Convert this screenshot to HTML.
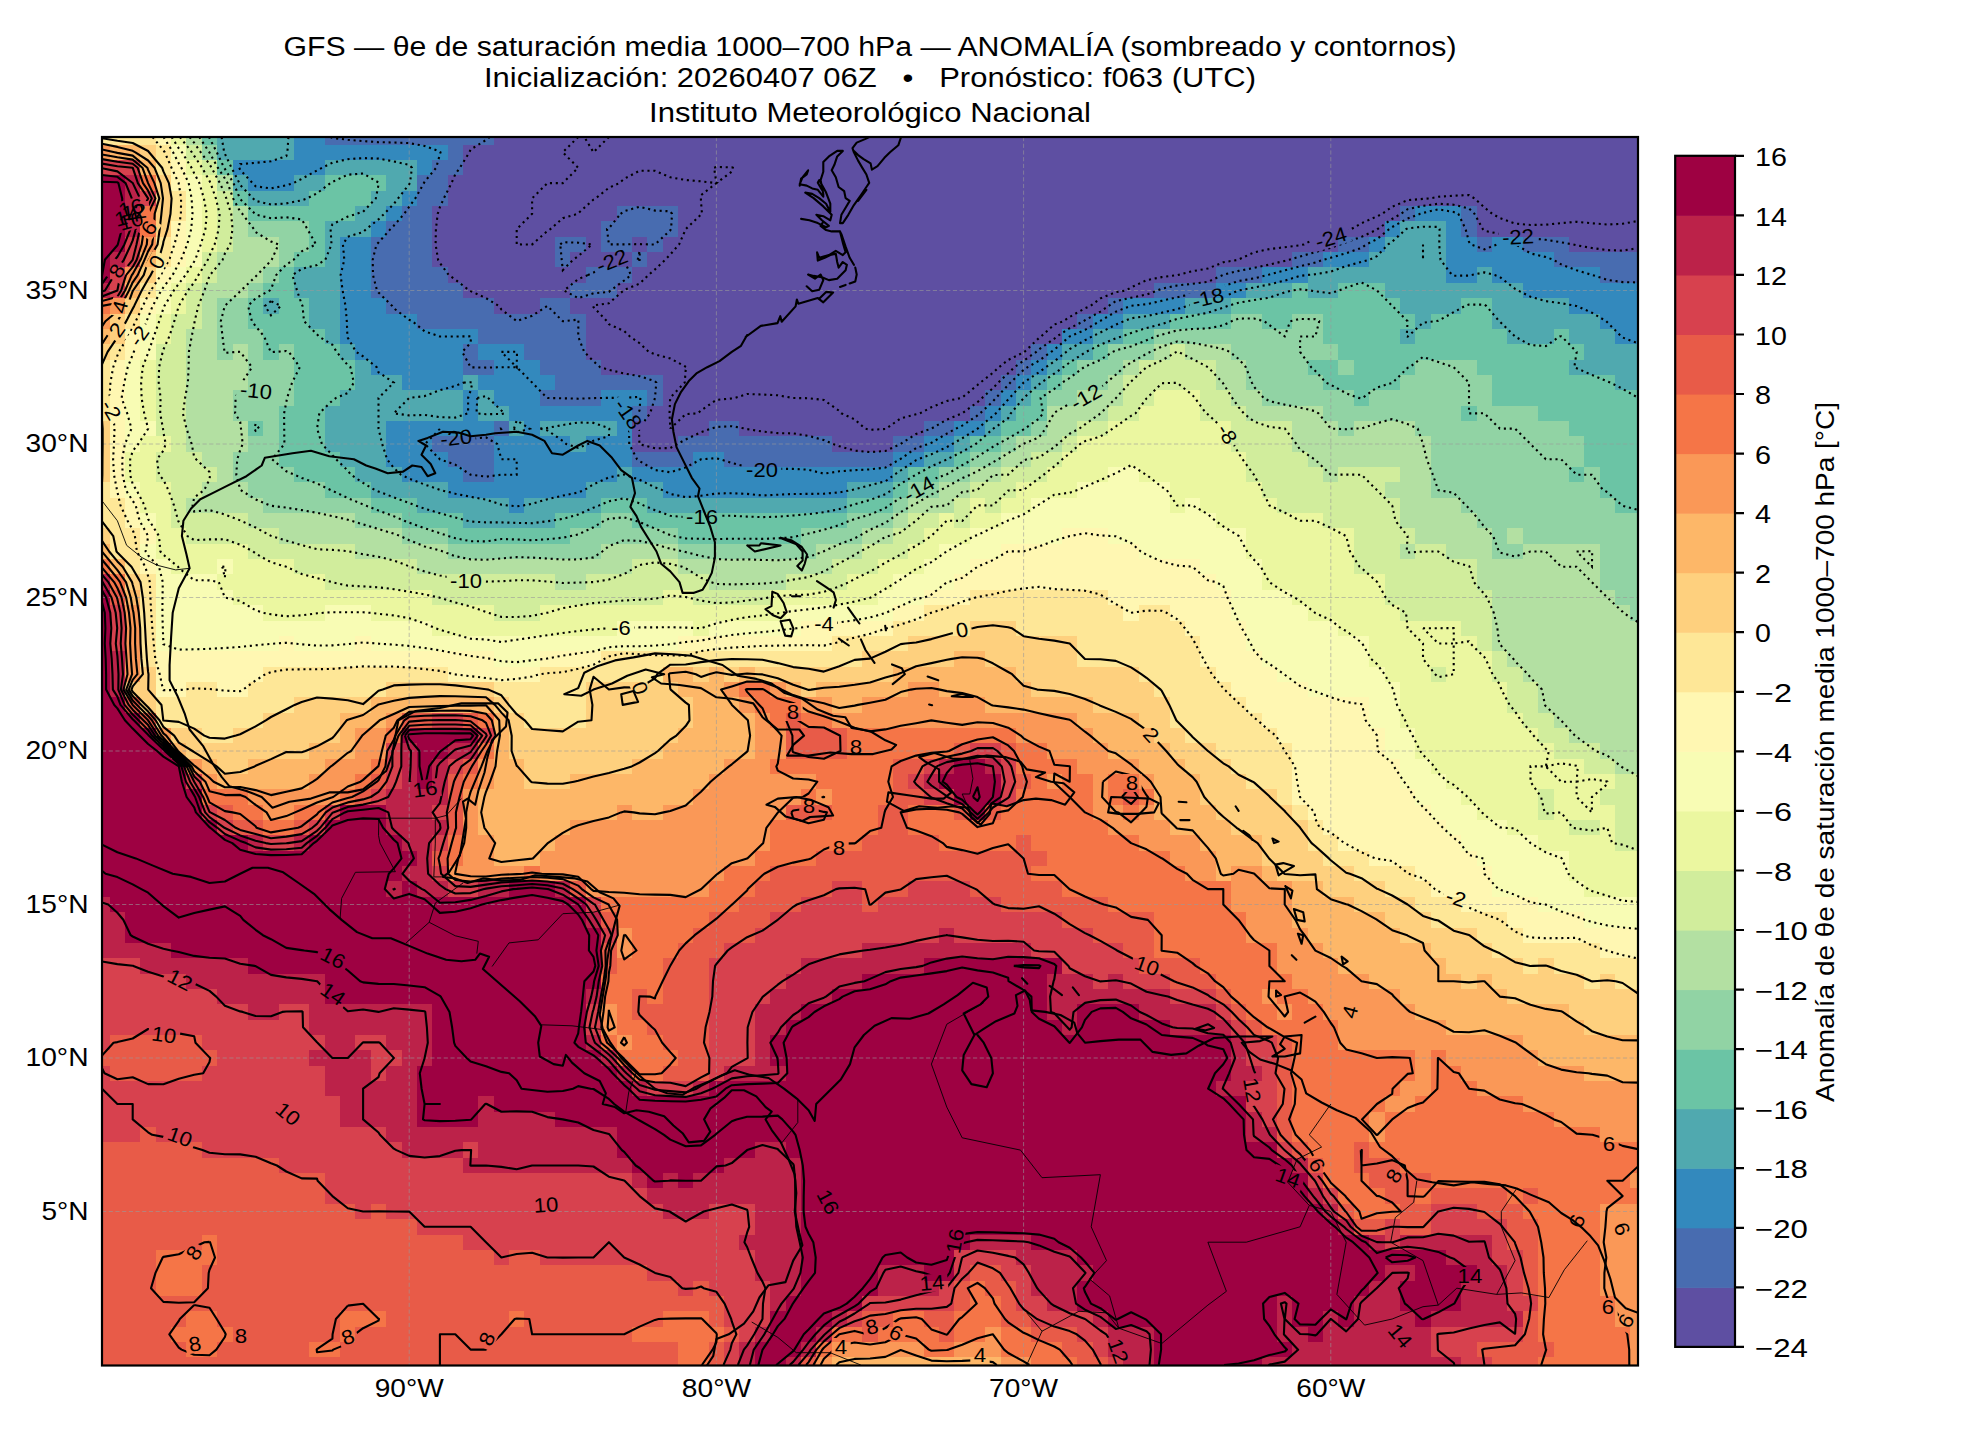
<!DOCTYPE html>
<html><head><meta charset="utf-8"><title>GFS</title>
<style>
html,body{margin:0;padding:0;background:#fff}
body{width:1980px;height:1440px;overflow:hidden;position:relative;font-family:"Liberation Sans",sans-serif}
svg{position:absolute;left:0;top:0}
text{font-family:"Liberation Sans",sans-serif;fill:#000}
.cn{fill:none;stroke:#000;stroke-width:2.1;stroke-dasharray:2.1 3.75}
.cp{fill:none;stroke:#000;stroke-width:2.1;stroke-linejoin:round}
.gl{fill:none;stroke:#9a9a9a;stroke-opacity:.6;stroke-width:1;stroke-dasharray:4.2 2.5}
.co{fill:none;stroke:#000;stroke-width:2.1;stroke-linejoin:round;stroke-linecap:round}
.bo{fill:none;stroke:#000;stroke-width:.9;stroke-linejoin:round}
.cl{font-size:20.5px;text-anchor:middle}
.tk{font-size:25px}
.tt{font-size:28.2px;text-anchor:middle}
</style></head><body>
<svg width="1980" height="1440" viewBox="0 0 1980 1440">
<rect width="1980" height="1440" fill="#fff"/>
<g shape-rendering="crispEdges"><path fill="#5e4fa2" d="M494 137h1144v69h-1144zM463 145h31v153h-31zM448 175h15v108h-15zM432 206h16v61h-16zM494 206h123v15h-123zM678 206h722v15h-722zM1477 206h161v31h-161zM494 221h107v16h-107zM678 221h707v16h-707zM494 237h61v61h-61zM586 237h15v30h-15zM632 237h15v15h-15zM663 237h675v15h-675zM1569 237h69v15h-69zM570 252h16v31h-16zM601 252h31v15h-31zM647 252h645v15h-645zM555 267h15v31h-15zM632 267h584v16h-584zM617 283h537v15h-537zM494 298h46v16h-46zM570 298h538v16h-538zM586 314h491v15h-491zM586 329h476v15h-476zM586 344h445v16h-445zM601 360h415v15h-415zM663 375h338v15h-338zM663 390h322v16h-322zM647 406h323v15h-323zM632 421h77v15h-77zM739 421h185v15h-185zM632 436h46v16h-46zM832 436h61v16h-61z"/><path fill="#486cb0" d="M325 137h169v8h-169zM448 145h15v30h-15zM432 160h16v46h-16zM417 175h15v154h-15zM402 206h15v108h-15zM617 206h61v31h-61zM1400 206h15v15h-15zM1461 206h16v31h-16zM386 221h16v93h-16zM601 221h16v31h-16zM371 237h15v61h-15zM555 237h31v15h-31zM617 237h15v15h-15zM647 237h16v15h-16zM1338 237h31v15h-31zM1477 237h15v15h-15zM1523 237h46v15h-46zM555 252h15v15h-15zM632 252h15v15h-15zM1292 252h31v15h-31zM1554 252h84v15h-84zM432 267h16v62h-16zM586 267h46v16h-46zM1216 267h46v16h-46zM1600 267h38v16h-38zM448 283h15v46h-15zM570 283h47v15h-47zM1154 283h62v15h-62zM463 298h31v31h-31zM540 298h30v77h-30zM1108 298h15v16h-15zM494 314h46v30h-46zM570 314h16v92h-16zM1077 314h16v15h-16zM478 329h16v15h-16zM463 344h15v31h-15zM524 344h16v16h-16zM1031 344h16v16h-16zM478 360h16v15h-16zM586 360h15v46h-15zM1016 360h15v15h-15zM555 375h15v31h-15zM601 375h62v15h-62zM1001 375h15v15h-15zM540 390h15v16h-15zM647 390h16v16h-16zM985 390h16v16h-16zM632 406h15v15h-15zM970 406h15v15h-15zM494 421h15v15h-15zM709 421h30v31h-30zM924 421h30v15h-30zM432 436h62v16h-62zM678 436h31v16h-31zM739 436h93v31h-93zM893 436h31v16h-31zM448 452h46v15h-46zM632 452h61v15h-61zM724 452h15v15h-15zM832 452h61v15h-61zM463 467h31v15h-31z"/><path fill="#3389bd" d="M294 137h31v38h-31zM325 145h123v15h-123zM233 160h61v15h-61zM417 160h15v15h-15zM248 175h46v16h-46zM402 191h15v15h-15zM386 206h16v15h-16zM1415 206h46v15h-46zM371 221h15v16h-15zM1385 221h15v16h-15zM1446 221h15v62h-15zM340 237h31v107h-31zM1369 237h16v15h-16zM1461 237h16v46h-16zM1492 237h31v46h-31zM1323 252h46v15h-46zM1477 252h15v15h-15zM1523 252h31v46h-31zM1262 267h46v16h-46zM1554 267h46v31h-46zM1216 283h30v15h-30zM1600 283h38v46h-38zM371 298h15v77h-15zM1123 298h62v16h-62zM1569 298h31v16h-31zM386 314h31v61h-31zM1093 314h30v15h-30zM417 329h61v15h-61zM1062 329h31v15h-31zM1615 329h23v15h-23zM355 344h16v16h-16zM417 344h46v46h-46zM478 344h46v16h-46zM1047 344h15v16h-15zM494 360h46v46h-46zM1031 360h16v15h-16zM402 375h15v15h-15zM478 375h16v15h-16zM540 375h15v15h-15zM1016 375h15v15h-15zM463 390h15v46h-15zM601 390h46v16h-46zM1001 390h15v16h-15zM509 406h123v15h-123zM985 406h16v15h-16zM386 421h77v15h-77zM478 421h16v15h-16zM524 421h16v77h-16zM617 421h15v46h-15zM954 421h31v15h-31zM386 436h46v31h-46zM494 436h30v62h-30zM540 436h30v62h-30zM586 436h31v46h-31zM924 436h30v16h-30zM432 452h16v30h-16zM570 452h16v46h-16zM693 452h31v46h-31zM893 452h31v15h-31zM402 467h30v15h-30zM448 467h15v31h-15zM632 467h61v15h-61zM724 467h169v15h-169zM463 482h31v16h-31zM663 482h30v16h-30zM724 482h123v16h-123zM509 498h15v15h-15z"/><path fill="#50a9af" d="M217 137h77v23h-77zM325 160h92v15h-92zM233 175h15v16h-15zM294 175h31v16h-31zM386 175h31v16h-31zM248 191h61v15h-61zM371 191h31v15h-31zM355 206h31v15h-31zM325 221h46v16h-46zM1400 221h46v93h-46zM325 237h15v107h-15zM1385 237h15v61h-15zM1369 252h16v31h-16zM294 267h31v31h-31zM1308 267h61v16h-61zM1477 267h15v31h-15zM1246 283h46v15h-46zM1308 283h30v15h-30zM1446 283h31v15h-31zM1492 283h31v46h-31zM263 298h16v16h-16zM309 298h16v31h-16zM1185 298h46v16h-46zM1446 298h15v16h-15zM1523 298h46v31h-46zM1123 314h47v15h-47zM1415 314h16v15h-16zM1569 314h31v30h-31zM1093 329h30v15h-30zM1400 329h15v15h-15zM1507 329h47v15h-47zM1600 329h15v46h-15zM340 344h15v16h-15zM1062 344h31v16h-31zM1584 344h16v31h-16zM1615 344h23v46h-23zM355 360h16v122h-16zM1047 360h15v15h-15zM1569 360h15v15h-15zM371 375h31v46h-31zM463 375h15v15h-15zM1031 375h16v15h-16zM340 390h15v77h-15zM402 390h61v31h-61zM478 390h16v31h-16zM1016 390h15v16h-15zM325 406h15v46h-15zM494 406h15v15h-15zM1001 406h15v15h-15zM371 421h15v77h-15zM509 421h15v15h-15zM540 421h77v15h-77zM985 421h16v15h-16zM570 436h16v16h-16zM954 436h16v16h-16zM924 452h30v15h-30zM386 467h16v31h-16zM617 467h15v31h-15zM893 467h15v15h-15zM402 482h46v16h-46zM586 482h31v16h-31zM632 482h31v16h-31zM847 482h46v16h-46zM417 498h92v15h-92zM524 498h77v15h-77zM647 498h200v15h-200zM463 513h92v15h-92z"/><path fill="#6bc4a5" d="M202 137h15v8h-15zM217 160h16v15h-16zM325 175h61v16h-61zM233 191h15v15h-15zM309 191h62v15h-62zM248 206h107v15h-107zM309 221h16v46h-16zM294 252h15v15h-15zM279 267h15v77h-15zM263 283h16v15h-16zM1292 283h16v31h-16zM1338 283h47v77h-47zM248 298h15v31h-15zM294 298h15v184h-15zM1231 298h61v16h-61zM1308 298h30v16h-30zM1385 298h15v92h-15zM1461 298h31v62h-31zM263 314h16v46h-16zM1170 314h61v15h-61zM1262 314h30v15h-30zM1323 314h15v30h-15zM1400 314h15v15h-15zM1431 314h30v46h-30zM309 329h16v153h-16zM1123 329h31v15h-31zM1415 329h16v31h-16zM1492 329h15v77h-15zM1554 329h15v92h-15zM325 344h15v62h-15zM1093 344h15v16h-15zM1400 344h15v31h-15zM1507 344h47v62h-47zM1569 344h15v16h-15zM340 360h15v30h-15zM1062 360h15v15h-15zM1308 360h30v15h-30zM1354 360h31v30h-31zM1477 360h15v15h-15zM1047 375h15v15h-15zM1323 375h31v15h-31zM1569 375h46v61h-46zM1031 390h16v31h-16zM1354 390h15v16h-15zM1615 390h23v123h-23zM279 406h15v61h-15zM1016 406h15v30h-15zM1461 406h16v15h-16zM1538 406h16v15h-16zM248 421h15v15h-15zM1001 421h15v15h-15zM970 436h31v16h-31zM1584 436h31v31h-31zM325 452h15v46h-15zM954 452h16v15h-16zM340 467h15v31h-15zM908 467h31v15h-31zM1569 467h15v15h-15zM1600 467h15v31h-15zM355 482h16v16h-16zM893 482h15v16h-15zM371 498h46v15h-46zM601 498h46v15h-46zM847 498h46v15h-46zM402 513h61v15h-61zM555 513h46v15h-46zM632 513h215v15h-215zM448 528h122v16h-122zM678 528h123v16h-123z"/><path fill="#91d3a4" d="M202 145h15v15h-15zM248 221h61v16h-61zM279 237h30v15h-30zM279 252h15v15h-15zM263 267h16v16h-16zM248 283h15v15h-15zM217 298h31v46h-31zM1231 314h31v46h-31zM1292 314h31v46h-31zM248 329h15v92h-15zM1154 329h77v15h-77zM1262 329h30v77h-30zM217 344h16v16h-16zM279 344h15v62h-15zM1108 344h46v16h-46zM1323 344h15v16h-15zM263 360h16v153h-16zM1077 360h46v15h-46zM1246 360h16v30h-16zM1292 360h16v46h-16zM1338 360h16v15h-16zM1415 360h62v46h-62zM1062 375h46v15h-46zM1308 375h15v31h-15zM1400 375h15v46h-15zM1477 375h15v153h-15zM233 390h15v31h-15zM1047 390h30v16h-30zM1323 390h31v31h-31zM1369 390h31v31h-31zM1354 406h15v15h-15zM1415 406h46v30h-46zM1492 406h46v122h-46zM1031 421h16v15h-16zM1338 421h16v15h-16zM1461 421h16v92h-16zM1538 421h31v123h-31zM248 436h15v62h-15zM1001 436h15v16h-15zM1431 436h30v62h-30zM1569 436h15v31h-15zM233 452h15v30h-15zM970 452h31v15h-31zM279 467h15v46h-15zM939 467h31v15h-31zM1584 467h16v77h-16zM294 482h31v31h-31zM908 482h31v16h-31zM1569 482h15v62h-15zM325 498h46v15h-46zM893 498h15v15h-15zM1600 498h15v92h-15zM355 513h47v15h-47zM601 513h31v31h-31zM847 513h46v15h-46zM1615 513h23v92h-23zM402 528h46v16h-46zM570 528h31v31h-31zM632 528h46v16h-46zM801 528h61v16h-61zM1492 528h15v31h-15zM1523 528h15v16h-15zM448 544h122v15h-122zM678 544h138v15h-138zM1507 544h16v15h-16zM1630 605h8v16h-8z"/><path fill="#b3e0a2" d="M186 137h16v8h-16zM217 175h16v16h-16zM233 206h15v92h-15zM248 237h31v30h-31zM217 252h16v46h-16zM248 267h15v16h-15zM202 283h15v184h-15zM186 329h16v123h-16zM233 344h15v46h-15zM1154 344h16v16h-16zM1185 344h46v16h-46zM217 360h16v153h-16zM1123 360h16v15h-16zM1216 360h30v30h-30zM1108 375h15v31h-15zM1077 390h31v31h-31zM1231 390h31v16h-31zM1047 406h30v30h-30zM1246 406h77v15h-77zM233 421h15v31h-15zM1292 421h46v31h-46zM1354 421h61v46h-61zM1016 436h46v16h-46zM1338 436h16v31h-16zM1415 436h16v108h-16zM1001 452h30v15h-30zM1308 452h30v15h-30zM970 467h31v15h-31zM1323 467h15v15h-15zM1400 467h15v61h-15zM202 482h15v31h-15zM233 482h15v31h-15zM939 482h31v16h-31zM1385 482h15v16h-15zM186 498h16v15h-16zM248 498h15v30h-15zM908 498h46v15h-46zM1431 498h30v46h-30zM263 513h92v15h-92zM893 513h15v15h-15zM1461 513h16v46h-16zM279 528h123v16h-123zM862 528h31v16h-31zM1477 528h15v62h-15zM1507 528h16v16h-16zM355 544h93v15h-93zM601 544h77v15h-77zM816 544h46v15h-46zM1400 544h15v15h-15zM1446 544h15v15h-15zM1523 544h77v138h-77zM417 559h215v15h-215zM678 559h154v15h-154zM1492 559h31v92h-31zM555 574h31v16h-31zM709 574h77v16h-77zM1600 590h15v169h-15zM1615 605h15v169h-15zM1630 621h8v153h-8zM1507 651h16v16h-16zM1538 682h62v31h-62zM1554 713h46v15h-46zM1569 728h31v15h-31z"/><path fill="#d1ed9c" d="M186 145h16v15h-16zM202 160h15v15h-15zM217 191h16v61h-16zM202 252h15v31h-15zM186 283h16v46h-16zM171 314h15v214h-15zM156 344h15v92h-15zM1170 344h15v46h-15zM1139 360h31v30h-31zM1185 360h31v30h-31zM1123 375h16v46h-16zM1139 390h15v16h-15zM1200 390h31v31h-31zM1108 406h15v15h-15zM1231 406h15v46h-15zM1077 421h31v15h-31zM1246 421h46v61h-46zM1062 436h15v16h-15zM156 452h15v30h-15zM186 452h16v46h-16zM1031 452h31v15h-31zM1292 452h16v61h-16zM202 467h15v15h-15zM1001 467h46v15h-46zM1308 467h15v46h-15zM1338 467h62v15h-62zM970 482h46v16h-46zM1262 482h30v16h-30zM1323 482h62v46h-62zM954 498h16v30h-16zM985 498h16v15h-16zM1277 498h15v15h-15zM1385 498h15v107h-15zM186 513h62v31h-62zM908 513h31v15h-31zM248 528h31v31h-31zM893 528h31v16h-31zM1354 528h31v46h-31zM1400 528h15v16h-15zM279 544h76v15h-76zM862 544h46v15h-46zM1415 544h31v77h-31zM294 559h123v15h-123zM632 559h46v31h-46zM832 559h46v15h-46zM1400 559h15v62h-15zM1446 559h31v62h-31zM325 574h230v16h-230zM586 574h46v31h-46zM678 574h31v16h-31zM786 574h61v16h-61zM432 590h154v15h-154zM632 590h31v15h-31zM693 590h77v15h-77zM1477 590h15v61h-15zM494 605h46v16h-46zM1461 621h16v15h-16zM1492 651h15v31h-15zM1431 667h15v15h-15zM1507 667h16v46h-16zM1523 682h15v46h-15zM1538 713h16v30h-16zM1554 728h15v31h-15zM1569 743h31v16h-31zM1584 759h31v15h-31zM1615 774h23v77h-23zM1538 789h16v31h-16zM1600 789h15v16h-15zM1569 820h31v15h-31z"/><path fill="#ebf7a0" d="M171 137h15v8h-15zM186 160h16v15h-16zM202 175h15v77h-15zM186 267h16v16h-16zM171 283h15v31h-15zM156 314h15v30h-15zM140 360h16v61h-16zM1154 390h46v92h-46zM1139 406h15v76h-15zM1108 421h31v46h-31zM1200 421h31v92h-31zM140 436h31v16h-31zM1077 436h31v46h-31zM125 452h31v30h-31zM1062 452h15v46h-15zM1231 452h15v76h-15zM1047 467h15v31h-15zM140 482h31v31h-31zM1016 482h31v16h-31zM1170 482h30v16h-30zM1246 482h16v77h-16zM970 498h15v30h-15zM1001 498h30v15h-30zM1170 498h15v15h-15zM1262 498h15v92h-15zM156 513h15v46h-15zM939 513h15v31h-15zM985 513h16v15h-16zM1216 513h15v15h-15zM1277 513h46v77h-46zM171 528h15v46h-15zM924 528h15v31h-15zM954 528h16v16h-16zM1323 528h31v93h-31zM186 544h62v15h-62zM908 544h16v30h-16zM186 559h31v15h-31zM233 559h61v46h-61zM878 559h30v15h-30zM217 574h16v16h-16zM294 574h31v47h-31zM847 574h46v16h-46zM1354 574h31v62h-31zM325 590h107v15h-107zM663 590h30v31h-30zM770 590h108v15h-108zM1292 590h31v15h-31zM263 605h31v16h-31zM371 605h123v16h-123zM540 605h123v16h-123zM693 605h93v16h-93zM1308 605h15v16h-15zM1385 605h15v77h-15zM432 621h185v15h-185zM693 621h16v15h-16zM1338 621h16v15h-16zM1400 621h61v46h-61zM1369 636h16v31h-16zM1461 636h16v169h-16zM1477 651h15v169h-15zM1400 667h31v61h-31zM1446 667h15v122h-15zM1431 682h15v92h-15zM1492 682h15v138h-15zM1507 713h16v122h-16zM1415 728h16v31h-16zM1523 728h15v107h-15zM1538 743h16v46h-16zM1554 759h30v61h-30zM1584 774h31v15h-31zM1584 789h16v31h-16zM1600 805h15v92h-15zM1538 820h31v31h-31zM1569 835h31v46h-31zM1615 851h23v46h-23zM1584 881h16v16h-16z"/><path fill="#f8fcb4" d="M171 145h15v15h-15zM186 175h16v92h-16zM171 267h15v16h-15zM156 283h15v31h-15zM140 314h16v46h-16zM125 360h15v92h-15zM140 421h16v15h-16zM1108 467h31v77h-31zM125 482h15v16h-15zM1077 482h31v46h-31zM1139 482h31v77h-31zM1031 498h46v30h-46zM1185 498h15v61h-15zM140 513h16v15h-16zM1001 513h30v31h-30zM1170 513h15v46h-15zM1200 513h16v61h-16zM970 528h31v31h-31zM1031 528h31v16h-31zM1216 528h30v62h-30zM140 544h16v15h-16zM939 544h31v30h-31zM156 559h15v92h-15zM217 559h16v15h-16zM924 559h15v31h-15zM1246 559h16v92h-16zM171 574h46v77h-46zM893 574h31v31h-31zM939 574h15v16h-15zM217 590h16v61h-16zM878 590h15v31h-15zM1231 590h15v31h-15zM1262 590h30v77h-30zM233 605h30v46h-30zM325 605h46v31h-46zM786 605h92v16h-92zM1292 605h16v77h-16zM263 621h62v15h-62zM371 621h61v30h-61zM617 621h76v15h-76zM709 621h92v15h-92zM1308 621h30v76h-30zM263 636h16v15h-16zM294 636h61v15h-61zM432 636h246v15h-246zM1338 636h31v61h-31zM494 651h46v16h-46zM1277 667h15v15h-15zM1369 667h16v61h-16zM1385 682h15v77h-15zM1400 728h15v61h-15zM1415 759h16v46h-16zM1431 774h15v46h-15zM1446 789h15v46h-15zM1461 805h16v46h-16zM1477 820h30v46h-30zM1507 835h31v62h-31zM1538 851h31v61h-31zM1492 866h15v31h-15zM1569 881h15v31h-15zM1584 897h54v31h-54z"/><path fill="#fff7b2" d="M156 137h15v8h-15zM171 160h15v31h-15zM171 221h15v46h-15zM156 267h15v16h-15zM140 298h16v16h-16zM125 329h15v31h-15zM110 360h15v138h-15zM125 498h15v30h-15zM140 528h16v16h-16zM1062 528h46v62h-46zM1001 544h61v46h-61zM1108 544h31v61h-31zM140 559h16v15h-16zM970 559h31v31h-31zM1139 559h61v46h-61zM954 574h16v31h-16zM1200 574h16v93h-16zM924 590h30v15h-30zM1216 590h15v92h-15zM893 605h31v16h-31zM1123 605h16v16h-16zM1170 605h30v16h-30zM801 621h92v15h-92zM1185 621h15v15h-15zM1231 621h15v76h-15zM279 636h15v31h-15zM355 636h16v31h-16zM678 636h154v15h-154zM156 651h123v16h-123zM294 651h61v16h-61zM371 651h123v16h-123zM540 651h61v16h-61zM1246 651h16v62h-16zM156 667h107v15h-107zM448 667h92v15h-92zM1262 667h15v61h-15zM156 682h30v15h-30zM217 682h31v15h-31zM1277 682h31v61h-31zM1308 697h61v123h-61zM1369 728h16v138h-16zM1292 743h16v62h-16zM1385 759h15v107h-15zM1400 789h15v77h-15zM1415 805h16v76h-16zM1323 820h46v15h-46zM1431 820h15v77h-15zM1338 835h31v16h-31zM1446 835h15v62h-15zM1461 851h16v61h-16zM1477 866h15v46h-15zM1492 897h46v15h-46zM1507 912h77v16h-77zM1523 928h115v15h-115zM1600 943h38v15h-38z"/><path fill="#fee797" d="M102 137h54v8h-54zM156 145h15v30h-15zM171 191h15v30h-15zM156 237h15v30h-15zM140 283h16v15h-16zM125 314h15v15h-15zM110 344h15v16h-15zM102 360h8v61h-8zM102 482h8v46h-8zM110 498h15v61h-15zM125 528h15v46h-15zM140 574h16v93h-16zM970 590h138v31h-138zM924 605h46v31h-46zM1108 605h15v62h-15zM1139 605h31v77h-31zM893 621h31v15h-31zM1016 621h92v15h-92zM1123 621h16v46h-16zM1170 621h15v107h-15zM832 636h76v15h-76zM1077 636h31v31h-31zM1185 636h15v107h-15zM601 651h261v16h-261zM263 667h185v15h-185zM540 667h123v15h-123zM1200 667h16v76h-16zM186 682h31v46h-31zM248 682h138v15h-138zM494 682h92v15h-92zM1154 682h16v15h-16zM1216 682h15v77h-15zM156 697h30v31h-30zM217 697h77v16h-77zM509 697h77v16h-77zM1231 697h15v77h-15zM217 713h46v15h-46zM524 713h62v15h-62zM1246 713h16v76h-16zM202 728h31v15h-31zM1262 728h15v61h-15zM1277 743h15v62h-15zM1292 805h16v15h-16zM1308 820h15v31h-15zM1323 835h15v31h-15zM1338 851h31v15h-31zM1354 866h61v15h-61zM1385 881h46v16h-46zM1415 897h46v15h-46zM1431 912h76v16h-76zM1477 928h46v15h-46zM1492 943h108v15h-108zM1523 958h15v16h-15zM1554 958h84v16h-84zM1584 974h16v15h-16zM1615 974h23v15h-23z"/><path fill="#fed07e" d="M140 145h16v15h-16zM156 175h15v62h-15zM140 267h16v16h-16zM125 298h15v16h-15zM110 314h15v30h-15zM102 344h8v16h-8zM102 421h8v61h-8zM102 528h8v16h-8zM125 574h15v16h-15zM970 621h46v30h-46zM908 636h62v15h-62zM1016 636h61v46h-61zM862 651h92v16h-92zM985 651h31v16h-31zM140 667h16v46h-16zM693 667h16v15h-16zM724 667h15v15h-15zM755 667h138v15h-138zM1077 667h62v30h-62zM125 682h15v15h-15zM386 682h108v15h-108zM586 682h92v61h-92zM801 682h15v15h-15zM1031 682h46v15h-46zM1139 682h15v46h-15zM294 697h77v16h-77zM494 697h15v16h-15zM678 697h15v31h-15zM1093 697h46v16h-46zM1154 697h16v46h-16zM263 713h77v30h-77zM509 713h15v46h-15zM171 728h31v15h-31zM233 728h30v31h-30zM524 728h62v46h-62zM1170 728h15v31h-15zM186 743h47v16h-47zM263 743h46v16h-46zM586 743h77v16h-77zM1185 743h31v31h-31zM217 759h31v15h-31zM586 759h46v15h-46zM1216 759h15v61h-15zM524 774h46v15h-46zM1200 774h16v31h-16zM1231 774h15v61h-15zM1246 789h31v46h-31zM1277 805h15v76h-15zM1292 820h16v61h-16zM1262 835h15v31h-15zM1308 851h15v30h-15zM1323 866h31v31h-31zM1354 881h31v31h-31zM1385 897h30v31h-30zM1415 912h16v31h-16zM1400 928h15v15h-15zM1431 928h46v30h-46zM1477 943h15v31h-15zM1446 958h31v16h-31zM1492 958h31v31h-31zM1538 958h16v46h-16zM1461 974h16v15h-16zM1523 974h15v30h-15zM1554 974h30v30h-30zM1600 974h15v61h-15zM1507 989h16v15h-16zM1584 989h16v46h-16zM1615 989h23v46h-23zM1569 1004h15v16h-15z"/><path fill="#fdb768" d="M110 145h30v15h-30zM140 160h16v15h-16zM140 252h16v15h-16zM125 283h15v15h-15zM102 329h8v15h-8zM102 544h8v15h-8zM110 559h15v15h-15zM125 590h15v15h-15zM954 651h31v46h-31zM663 667h30v15h-30zM709 667h15v107h-15zM739 667h16v15h-16zM893 667h61v15h-61zM985 667h31v46h-31zM678 682h31v15h-31zM786 682h15v15h-15zM816 682h92v15h-92zM939 682h15v15h-15zM1016 682h15v31h-15zM371 697h123v16h-123zM693 697h16v92h-16zM724 697h15v62h-15zM832 697h30v16h-30zM1031 697h62v16h-62zM340 713h46v15h-46zM494 713h15v153h-15zM739 713h16v46h-16zM1077 713h62v15h-62zM340 728h15v31h-15zM678 728h15v77h-15zM1093 728h61v15h-61zM171 743h15v16h-15zM309 743h31v16h-31zM663 743h15v62h-15zM1108 743h62v16h-62zM202 759h15v15h-15zM248 759h77v15h-77zM509 759h15v107h-15zM632 759h31v61h-31zM1139 759h46v15h-46zM217 774h92v15h-92zM570 774h62v31h-62zM1154 774h46v46h-46zM478 789h16v46h-16zM524 789h46v46h-46zM570 805h47v15h-47zM1200 805h16v46h-16zM1170 820h30v15h-30zM1216 820h15v61h-15zM524 835h31v16h-31zM1231 835h31v31h-31zM524 851h16v15h-16zM1262 866h15v15h-15zM1292 881h31v47h-31zM1323 897h31v61h-31zM1354 912h31v62h-31zM1308 928h15v15h-15zM1385 928h15v61h-15zM1400 943h31v61h-31zM1338 958h16v16h-16zM1431 958h15v62h-15zM1369 974h16v15h-16zM1446 974h15v61h-15zM1477 974h15v61h-15zM1461 989h16v46h-16zM1492 989h15v46h-15zM1415 1004h16v16h-16zM1507 1004h62v31h-62zM1569 1020h15v46h-15zM1523 1035h46v15h-46zM1584 1035h54v46h-54zM1538 1050h31v16h-31zM832 1357h169v8h-169z"/><path fill="#fa9857" d="M102 145h8v15h-8zM140 237h16v15h-16zM125 267h15v16h-15zM110 298h15v16h-15zM102 314h8v15h-8zM125 605h15v77h-15zM724 682h15v15h-15zM770 682h16v15h-16zM908 682h31v46h-31zM739 697h16v16h-16zM801 697h31v16h-31zM862 697h46v31h-46zM939 697h46v31h-46zM386 713h16v15h-16zM755 713h15v138h-15zM832 713h30v15h-30zM985 713h92v15h-92zM156 728h15v15h-15zM355 728h31v31h-31zM770 728h16v31h-16zM1016 728h77v15h-77zM1047 743h61v16h-61zM186 759h16v15h-16zM325 759h46v15h-46zM478 759h16v30h-16zM724 759h31v107h-31zM1077 759h62v15h-62zM202 774h15v15h-15zM309 774h46v15h-46zM709 774h15v107h-15zM770 774h46v15h-46zM1047 774h15v15h-15zM1093 774h15v46h-15zM1139 774h15v15h-15zM248 789h92v16h-92zM463 789h15v92h-15zM693 789h16v108h-16zM770 789h31v16h-31zM816 789h16v16h-16zM263 805h31v15h-31zM617 805h15v92h-15zM663 805h30v92h-30zM770 805h16v15h-16zM1108 805h15v30h-15zM1139 805h15v46h-15zM570 820h47v61h-47zM632 820h31v77h-31zM1123 820h16v15h-16zM1154 820h16v31h-16zM478 835h16v46h-16zM555 835h15v46h-15zM1170 835h30v31h-30zM540 851h15v30h-15zM1200 851h16v30h-16zM448 866h15v15h-15zM494 866h30v15h-30zM1185 866h15v15h-15zM1231 866h31v46h-31zM586 881h31v16h-31zM1262 881h30v62h-30zM1246 912h16v31h-16zM617 928h15v30h-15zM1292 928h16v61h-16zM1277 943h15v31h-15zM1308 943h15v61h-15zM1323 958h15v62h-15zM1338 974h31v76h-31zM1262 989h15v15h-15zM1369 989h31v61h-31zM601 1004h16v31h-16zM1277 1004h15v16h-15zM1400 1004h15v46h-15zM1415 1020h31v30h-31zM617 1035h15v15h-15zM1446 1035h77v31h-77zM1415 1050h16v46h-16zM1523 1050h15v62h-15zM1461 1066h62v15h-62zM1538 1066h46v46h-46zM1400 1081h15v31h-15zM1477 1081h46v15h-46zM1584 1081h54v46h-54zM1385 1096h15v16h-15zM1369 1112h16v30h-16zM1554 1112h30v15h-30zM1600 1127h38v15h-38zM1630 1173h8v15h-8zM1600 1204h38v92h-38zM1615 1296h23v31h-23zM985 1327h16v30h-16zM1630 1327h8v38h-8zM832 1342h92v15h-92zM954 1342h31v15h-31zM816 1357h16v8h-16zM1001 1357h30v8h-30z"/><path fill="#f57547" d="M140 175h16v16h-16zM140 206h16v31h-16zM102 298h8v16h-8zM102 559h8v15h-8zM110 574h15v16h-15zM739 682h31v15h-31zM755 697h46v16h-46zM478 713h16v15h-16zM770 713h16v15h-16zM801 713h31v15h-31zM386 728h16v15h-16zM847 728h169v15h-169zM478 743h16v16h-16zM847 743h107v16h-107zM1016 743h31v31h-31zM371 759h15v15h-15zM770 759h123v15h-123zM1047 759h30v15h-30zM355 774h16v15h-16zM463 774h15v15h-15zM816 774h77v15h-77zM1031 774h16v77h-16zM1062 774h31v123h-31zM1108 774h31v15h-31zM202 789h46v16h-46zM340 789h15v16h-15zM801 789h15v16h-15zM832 789h61v16h-61zM1016 789h15v46h-15zM1047 789h15v92h-15zM1108 789h15v16h-15zM1139 789h15v16h-15zM233 805h30v15h-30zM294 805h31v15h-31zM832 805h46v30h-46zM908 805h46v30h-46zM1001 805h15v46h-15zM1123 805h16v15h-16zM263 820h31v15h-31zM770 820h62v31h-62zM954 820h47v31h-47zM1093 820h15v77h-15zM448 835h15v31h-15zM832 835h30v16h-30zM939 835h15v16h-15zM1108 835h31v77h-31zM755 851h61v15h-61zM1139 851h31v61h-31zM524 866h16v15h-16zM724 866h46v15h-46zM1031 866h16v15h-16zM1170 866h15v92h-15zM709 881h46v16h-46zM1185 881h46v77h-46zM601 897h138v15h-138zM617 912h92v16h-92zM1154 912h16v46h-16zM1231 912h15v92h-15zM632 928h61v15h-61zM632 943h46v15h-46zM1246 943h31v46h-31zM617 958h46v31h-46zM1200 958h31v16h-31zM601 974h16v30h-16zM1216 974h15v15h-15zM1277 974h15v30h-15zM617 989h15v46h-15zM647 989h16v15h-16zM1246 989h16v31h-16zM1292 989h16v153h-16zM1262 1004h15v31h-15zM1308 1004h15v154h-15zM632 1020h15v61h-15zM1277 1020h15v15h-15zM1323 1020h15v168h-15zM601 1035h16v15h-16zM647 1035h16v46h-16zM617 1050h15v16h-15zM663 1050h15v16h-15zM1338 1050h77v31h-77zM1431 1050h15v138h-15zM1446 1066h15v122h-15zM1338 1081h62v15h-62zM1461 1081h16v107h-16zM1338 1096h47v16h-47zM1415 1096h16v77h-16zM1477 1096h46v92h-46zM1338 1112h31v30h-31zM1385 1112h30v46h-30zM1523 1112h31v76h-31zM1554 1127h46v238h-46zM1338 1142h16v62h-16zM1369 1142h16v16h-16zM1600 1142h38v31h-38zM1400 1158h15v15h-15zM1354 1173h15v46h-15zM1600 1173h30v31h-30zM1369 1188h16v31h-16zM1415 1188h16v16h-16zM1507 1188h16v16h-16zM1538 1188h16v154h-16zM1630 1188h8v16h-8zM1385 1204h15v15h-15zM1523 1204h15v15h-15zM202 1235h15v30h-15zM156 1250h46v46h-46zM970 1281h15v61h-15zM985 1296h16v31h-16zM1600 1296h15v69h-15zM186 1311h31v46h-31zM340 1311h46v16h-46zM509 1311h15v16h-15zM663 1311h46v31h-46zM893 1311h31v31h-31zM954 1311h16v31h-16zM171 1327h15v15h-15zM217 1327h16v15h-16zM340 1327h15v15h-15zM632 1327h31v15h-31zM709 1327h15v15h-15zM832 1327h30v15h-30zM878 1327h15v15h-15zM924 1327h15v30h-15zM1001 1327h30v30h-30zM1615 1327h15v38h-15zM309 1342h31v15h-31zM678 1342h31v23h-31zM816 1342h16v15h-16zM939 1342h15v15h-15zM1031 1342h31v23h-31zM1062 1357h15v8h-15zM1538 1357h16v8h-16z"/><path fill="#e85b48" d="M110 590h15v15h-15zM125 697h15v16h-15zM140 713h16v15h-16zM402 713h30v15h-30zM463 713h15v15h-15zM786 713h15v46h-15zM801 728h46v31h-46zM954 743h16v16h-16zM1001 743h15v16h-15zM463 759h15v15h-15zM893 759h31v15h-31zM371 774h15v15h-15zM448 774h15v61h-15zM893 774h15v123h-15zM1016 774h15v15h-15zM355 789h16v16h-16zM908 789h16v16h-16zM1123 789h16v16h-16zM217 805h16v15h-16zM786 805h46v15h-46zM878 805h15v92h-15zM954 805h16v15h-16zM985 805h16v15h-16zM233 820h30v15h-30zM294 820h15v15h-15zM862 835h16v77h-16zM908 835h31v46h-31zM1016 835h15v77h-15zM432 851h16v15h-16zM816 851h46v30h-46zM939 851h77v30h-77zM1031 851h16v15h-16zM770 866h46v31h-46zM570 881h16v16h-16zM755 881h15v47h-15zM816 881h16v16h-16zM970 881h46v16h-46zM1031 881h31v31h-31zM739 897h16v46h-16zM770 897h31v15h-31zM1001 897h15v15h-15zM1062 897h46v31h-46zM601 912h16v16h-16zM709 912h30v31h-30zM1108 912h46v31h-46zM693 928h16v153h-16zM1093 928h15v15h-15zM601 943h16v31h-16zM678 943h15v138h-15zM709 943h15v15h-15zM1123 943h31v15h-31zM663 958h15v92h-15zM1139 958h61v16h-61zM1170 974h46v15h-46zM632 989h15v31h-15zM1216 989h15v15h-15zM647 1004h16v31h-16zM1231 1004h15v16h-15zM1246 1020h16v15h-16zM110 1035h92v46h-92zM1277 1035h15v107h-15zM102 1050h8v16h-8zM202 1050h15v16h-15zM663 1066h15v15h-15zM140 1127h16v238h-16zM102 1142h38v223h-38zM156 1142h46v108h-46zM1292 1142h16v16h-16zM1354 1142h15v31h-15zM202 1158h77v77h-77zM1308 1158h15v15h-15zM1369 1158h31v30h-31zM279 1173h46v169h-46zM1400 1173h31v15h-31zM1385 1188h30v16h-30zM1431 1188h76v16h-76zM1523 1188h15v16h-15zM325 1204h30v107h-30zM371 1204h15v107h-15zM1338 1204h16v15h-16zM1400 1204h31v31h-31zM1477 1204h46v15h-46zM355 1219h16v92h-16zM386 1219h31v146h-31zM1354 1219h31v16h-31zM1507 1219h31v31h-31zM217 1235h62v92h-62zM417 1235h46v130h-46zM463 1250h31v115h-31zM509 1250h31v61h-31zM1523 1250h15v46h-15zM202 1265h15v46h-15zM494 1265h15v100h-15zM540 1265h107v62h-107zM970 1265h31v16h-31zM647 1281h31v30h-31zM693 1281h16v30h-16zM954 1281h16v30h-16zM985 1281h31v15h-31zM156 1296h46v15h-46zM678 1296h15v15h-15zM709 1296h15v31h-15zM1001 1296h15v31h-15zM156 1311h30v16h-30zM325 1311h15v31h-15zM524 1311h16v54h-16zM647 1311h16v16h-16zM862 1311h31v16h-31zM924 1311h30v16h-30zM1016 1311h15v16h-15zM1523 1311h15v54h-15zM156 1327h15v38h-15zM233 1327h46v38h-46zM355 1327h31v38h-31zM509 1327h15v38h-15zM540 1327h92v38h-92zM724 1327h15v15h-15zM862 1327h16v15h-16zM939 1327h15v15h-15zM1031 1327h46v15h-46zM171 1342h15v23h-15zM217 1342h16v23h-16zM279 1342h30v23h-30zM340 1342h15v23h-15zM632 1342h46v23h-46zM709 1342h15v23h-15zM1062 1342h31v15h-31zM1477 1342h46v15h-46zM1538 1342h16v15h-16zM186 1357h31v8h-31zM309 1357h31v8h-31zM801 1357h15v8h-15zM1077 1357h31v8h-31zM1492 1357h31v8h-31z"/><path fill="#d7414e" d="M102 160h38v15h-38zM140 191h16v15h-16zM125 237h15v30h-15zM110 267h15v31h-15zM110 605h15v46h-15zM432 713h31v15h-31zM478 728h16v15h-16zM386 743h16v46h-16zM970 743h31v16h-31zM448 759h15v15h-15zM924 759h15v15h-15zM1001 759h15v46h-15zM186 774h16v15h-16zM908 774h16v15h-16zM371 789h15v16h-15zM924 789h30v16h-30zM202 805h15v15h-15zM325 805h15v15h-15zM432 805h16v15h-16zM217 820h16v15h-16zM309 820h16v15h-16zM263 835h31v16h-31zM432 835h16v16h-16zM432 866h16v15h-16zM448 881h30v16h-30zM832 881h30v77h-30zM908 881h62v47h-62zM586 897h15v15h-15zM801 897h31v61h-31zM878 897h30v46h-30zM970 897h31v46h-31zM770 912h31v62h-31zM862 912h16v31h-16zM1001 912h61v31h-61zM601 928h16v15h-16zM755 928h15v76h-15zM908 928h31v15h-31zM954 928h16v15h-16zM1062 928h31v46h-31zM724 943h31v123h-31zM1031 943h31v15h-31zM1093 943h30v31h-30zM102 958h38v77h-38zM709 958h15v123h-15zM1123 958h16v31h-16zM140 974h46v61h-46zM770 974h16v15h-16zM1093 974h15v15h-15zM1139 974h31v15h-31zM186 989h31v46h-31zM1170 989h46v15h-46zM217 1004h31v154h-31zM279 1004h30v169h-30zM586 1004h15v31h-15zM1216 1004h15v16h-15zM248 1020h31v138h-31zM1231 1020h15v15h-15zM102 1035h8v15h-8zM202 1035h15v15h-15zM309 1035h16v15h-16zM355 1035h31v15h-31zM1246 1035h31v31h-31zM371 1050h31v16h-31zM102 1066h8v76h-8zM202 1066h15v92h-15zM309 1066h16v107h-16zM371 1066h15v15h-15zM1262 1066h15v61h-15zM110 1081h92v46h-92zM647 1081h46v15h-46zM1246 1081h16v31h-16zM325 1096h15v108h-15zM110 1127h30v15h-30zM156 1127h46v15h-46zM340 1127h46v77h-46zM386 1142h16v77h-16zM463 1142h15v16h-15zM1277 1142h15v16h-15zM402 1158h61v61h-61zM463 1173h169v77h-169zM1308 1173h15v15h-15zM632 1188h15v77h-15zM1323 1188h15v16h-15zM355 1204h16v15h-16zM647 1204h16v77h-16zM709 1204h46v31h-46zM1431 1204h46v31h-46zM417 1219h46v16h-46zM663 1219h46v62h-46zM1385 1219h15v31h-15zM1477 1219h30v16h-30zM709 1235h30v61h-30zM1492 1235h15v30h-15zM494 1250h15v15h-15zM540 1250h92v15h-92zM739 1250h16v92h-16zM954 1250h62v15h-62zM1507 1250h16v61h-16zM954 1265h16v16h-16zM1001 1265h30v16h-30zM678 1281h15v15h-15zM755 1281h15v46h-15zM939 1281h15v30h-15zM1016 1281h15v30h-15zM724 1296h15v31h-15zM862 1296h77v15h-77zM1031 1296h16v31h-16zM1523 1296h15v15h-15zM847 1311h15v16h-15zM1047 1311h46v16h-46zM1077 1327h31v15h-31zM1431 1327h92v15h-92zM724 1342h15v23h-15zM1093 1342h15v15h-15zM1431 1342h46v15h-46zM1108 1357h15v8h-15zM1461 1357h31v8h-31z"/><path fill="#bc2249" d="M125 175h15v62h-15zM110 252h15v15h-15zM102 283h8v15h-8zM102 574h8v16h-8zM110 651h15v46h-15zM402 743h15v108h-15zM448 743h30v16h-30zM432 759h16v46h-16zM939 759h15v15h-15zM985 759h16v15h-16zM924 774h15v15h-15zM386 789h16v46h-16zM417 789h15v108h-15zM432 820h16v15h-16zM248 835h15v16h-15zM294 835h15v16h-15zM402 866h15v15h-15zM386 881h16v16h-16zM432 881h16v16h-16zM478 881h31v16h-31zM555 881h15v16h-15zM102 897h8v61h-8zM110 912h15v46h-15zM586 912h15v16h-15zM939 928h15v30h-15zM125 943h46v15h-46zM862 943h77v15h-77zM954 943h77v15h-77zM140 958h108v16h-108zM801 958h123v16h-123zM186 974h139v15h-139zM786 974h76v15h-76zM1047 974h46v30h-46zM1108 974h15v30h-15zM217 989h108v15h-108zM586 989h15v15h-15zM770 989h62v15h-62zM1093 989h15v15h-15zM1123 989h47v15h-47zM248 1004h31v16h-31zM309 1004h123v31h-123zM755 1004h46v16h-46zM1047 1004h30v16h-30zM1139 1004h77v16h-77zM755 1020h31v15h-31zM1062 1020h15v15h-15zM1170 1020h61v15h-61zM325 1035h30v61h-30zM386 1035h46v15h-46zM586 1035h15v15h-15zM755 1035h15v46h-15zM1231 1035h15v61h-15zM309 1050h16v16h-16zM355 1050h16v77h-16zM402 1050h30v16h-30zM601 1050h16v16h-16zM386 1066h31v76h-31zM617 1066h15v15h-15zM724 1066h31v15h-31zM770 1066h16v15h-16zM1246 1066h16v15h-16zM371 1081h15v46h-15zM632 1081h15v15h-15zM693 1081h16v15h-16zM1216 1081h15v15h-15zM340 1096h15v31h-15zM478 1096h16v77h-16zM494 1112h61v61h-61zM1246 1112h16v30h-16zM417 1127h61v15h-61zM555 1127h62v46h-62zM1262 1127h15v15h-15zM402 1142h61v16h-61zM755 1142h31v139h-31zM463 1158h15v15h-15zM617 1158h15v15h-15zM724 1158h31v46h-31zM786 1158h15v138h-15zM1292 1158h16v15h-16zM632 1173h15v15h-15zM663 1173h15v46h-15zM693 1173h31v31h-31zM647 1188h16v16h-16zM678 1188h15v31h-15zM1308 1188h15v16h-15zM693 1204h16v15h-16zM1323 1204h15v15h-15zM1338 1219h16v16h-16zM739 1235h16v15h-16zM970 1235h61v15h-61zM1369 1235h16v15h-16zM1400 1235h92v15h-92zM1016 1250h61v15h-61zM1446 1250h46v15h-46zM878 1265h46v31h-46zM1031 1265h62v16h-62zM1385 1265h30v16h-30zM1477 1265h30v62h-30zM770 1281h16v30h-16zM924 1281h15v15h-15zM1031 1281h46v15h-46zM1369 1281h31v84h-31zM1461 1281h16v46h-16zM1047 1296h30v15h-30zM1277 1296h15v46h-15zM1354 1296h15v69h-15zM832 1311h15v16h-15zM1093 1311h15v16h-15zM1323 1311h15v54h-15zM1400 1311h15v54h-15zM1431 1311h30v16h-30zM1507 1311h16v16h-16zM755 1327h15v15h-15zM816 1327h16v15h-16zM1108 1327h46v30h-46zM1292 1327h16v38h-16zM1338 1327h16v38h-16zM1415 1327h16v38h-16zM739 1342h16v23h-16zM801 1342h15v15h-15zM1308 1342h15v23h-15zM786 1357h15v8h-15zM1123 1357h31v8h-31zM1262 1357h30v8h-30zM1431 1357h30v8h-30z"/><path fill="#9e0142" d="M102 175h23v77h-23zM102 252h8v31h-8zM102 590h8v307h-8zM110 697h15v215h-15zM125 713h15v230h-15zM140 728h16v215h-16zM402 728h76v15h-76zM156 743h15v200h-15zM417 743h31v16h-31zM171 759h15v199h-15zM417 759h15v30h-15zM954 759h31v46h-31zM939 774h15v15h-15zM985 774h16v31h-16zM186 789h16v169h-16zM340 805h46v199h-46zM970 805h15v15h-15zM202 820h15v138h-15zM325 820h15v184h-15zM217 835h31v123h-31zM309 835h16v139h-16zM386 835h16v46h-16zM248 851h61v123h-61zM402 851h15v15h-15zM402 881h15v123h-15zM509 881h46v231h-46zM386 897h16v107h-16zM417 897h92v107h-92zM555 897h31v230h-31zM586 928h15v61h-15zM924 958h138v16h-138zM862 974h185v261h-185zM832 989h30v322h-30zM432 1004h77v92h-77zM801 1004h31v323h-31zM1077 1004h62v261h-62zM786 1020h15v138h-15zM1047 1020h15v230h-15zM1139 1020h31v307h-31zM770 1035h16v31h-16zM1062 1035h15v215h-15zM1170 1035h61v46h-61zM586 1050h15v77h-15zM417 1066h15v61h-15zM601 1066h16v61h-16zM617 1081h15v77h-15zM709 1081h77v61h-77zM1170 1081h46v284h-46zM432 1096h46v31h-46zM494 1096h15v16h-15zM632 1096h77v77h-77zM1216 1096h30v269h-30zM709 1142h46v16h-46zM1246 1142h31v215h-31zM709 1158h15v15h-15zM1277 1158h15v138h-15zM647 1173h16v15h-16zM678 1173h15v15h-15zM1292 1173h16v154h-16zM1308 1204h15v138h-15zM1323 1219h15v92h-15zM862 1235h108v15h-108zM1031 1235h16v15h-16zM1338 1235h31v61h-31zM862 1250h92v15h-92zM1369 1250h77v15h-77zM862 1265h16v31h-16zM924 1265h30v16h-30zM1093 1265h46v46h-46zM1369 1265h16v16h-16zM1415 1265h62v16h-62zM1077 1281h16v30h-16zM1400 1281h61v30h-61zM786 1296h15v61h-15zM1338 1296h16v31h-16zM770 1311h16v54h-16zM1108 1311h31v16h-31zM1415 1311h16v16h-16zM801 1327h15v15h-15zM1154 1327h16v38h-16zM755 1342h15v23h-15zM1277 1342h15v15h-15zM1246 1357h16v8h-16z"/></g>
<clipPath id="cp"><rect x="102" y="137" width="1536" height="1228"/></clipPath>
<mask id="lm" maskUnits="userSpaceOnUse" x="0" y="0" width="1980" height="1440"><rect width="1980" height="1440" fill="#fff"/><rect transform="translate(1331 238) rotate(-17)" x="-19.4" y="-9" width="38.9" height="18" fill="#000"/><rect transform="translate(1518 237) rotate(-3)" x="-19.4" y="-9" width="38.9" height="18" fill="#000"/><rect transform="translate(1208 298) rotate(-14)" x="-19.4" y="-9" width="38.9" height="18" fill="#000"/><rect transform="translate(1086 397) rotate(-30)" x="-19.4" y="-9" width="38.9" height="18" fill="#000"/><rect transform="translate(1227 434) rotate(58)" x="-13.2" y="-9" width="26.5" height="18" fill="#000"/><rect transform="translate(612 261) rotate(-22)" x="-19.4" y="-9" width="38.9" height="18" fill="#000"/><rect transform="translate(628 414) rotate(55)" x="-19.4" y="-9" width="38.9" height="18" fill="#000"/><rect transform="translate(456 438) rotate(-6)" x="-19.4" y="-9" width="38.8" height="18" fill="#000"/><rect transform="translate(256 391) rotate(6)" x="-19.4" y="-9" width="38.8" height="18" fill="#000"/><rect transform="translate(762 470) rotate(0)" x="-19.4" y="-9" width="38.8" height="18" fill="#000"/><rect transform="translate(702 517) rotate(0)" x="-19.4" y="-9" width="38.9" height="18" fill="#000"/><rect transform="translate(919 489) rotate(-30)" x="-19.4" y="-9" width="38.9" height="18" fill="#000"/><rect transform="translate(466 581) rotate(0)" x="-19.4" y="-9" width="38.8" height="18" fill="#000"/><rect transform="translate(621 628) rotate(0)" x="-13.2" y="-9" width="26.5" height="18" fill="#000"/><rect transform="translate(824 624) rotate(0)" x="-13.2" y="-9" width="26.5" height="18" fill="#000"/><rect transform="translate(962 630) rotate(-10)" x="-9.6" y="-9" width="19.2" height="18" fill="#000"/><rect transform="translate(640 688) rotate(70)" x="-9.6" y="-9" width="19.2" height="18" fill="#000"/><rect transform="translate(1151 735) rotate(48)" x="-9.7" y="-9" width="19.4" height="18" fill="#000"/><rect transform="translate(1456 898) rotate(18)" x="-13.2" y="-9" width="26.5" height="18" fill="#000"/><rect transform="translate(1350 1012) rotate(-75)" x="-9.7" y="-9" width="19.4" height="18" fill="#000"/><rect transform="translate(1147 966) rotate(20)" x="-15.8" y="-9" width="31.6" height="18" fill="#000"/><rect transform="translate(793 712) rotate(0)" x="-9.7" y="-9" width="19.4" height="18" fill="#000"/><rect transform="translate(856 747) rotate(0)" x="-9.7" y="-9" width="19.4" height="18" fill="#000"/><rect transform="translate(809 806) rotate(0)" x="-9.7" y="-9" width="19.4" height="18" fill="#000"/><rect transform="translate(839 848) rotate(0)" x="-9.7" y="-9" width="19.4" height="18" fill="#000"/><rect transform="translate(1132 783) rotate(0)" x="-9.7" y="-9" width="19.4" height="18" fill="#000"/><rect transform="translate(425 789) rotate(-8)" x="-15.9" y="-9" width="31.8" height="18" fill="#000"/><rect transform="translate(333 958) rotate(27)" x="-15.9" y="-9" width="31.8" height="18" fill="#000"/><rect transform="translate(333 994) rotate(35)" x="-15.9" y="-9" width="31.8" height="18" fill="#000"/><rect transform="translate(180 980) rotate(27)" x="-15.9" y="-9" width="31.8" height="18" fill="#000"/><rect transform="translate(164 1035) rotate(8)" x="-15.8" y="-9" width="31.6" height="18" fill="#000"/><rect transform="translate(288 1114) rotate(40)" x="-15.8" y="-9" width="31.6" height="18" fill="#000"/><rect transform="translate(180 1137) rotate(20)" x="-15.8" y="-9" width="31.6" height="18" fill="#000"/><rect transform="translate(546 1205) rotate(-4)" x="-15.8" y="-9" width="31.6" height="18" fill="#000"/><rect transform="translate(194 1253) rotate(-55)" x="-9.7" y="-9" width="19.4" height="18" fill="#000"/><rect transform="translate(241 1336) rotate(0)" x="-9.7" y="-9" width="19.4" height="18" fill="#000"/><rect transform="translate(195 1344) rotate(-10)" x="-9.7" y="-9" width="19.4" height="18" fill="#000"/><rect transform="translate(348 1337) rotate(-20)" x="-9.7" y="-9" width="19.4" height="18" fill="#000"/><rect transform="translate(487 1339) rotate(-65)" x="-9.7" y="-9" width="19.4" height="18" fill="#000"/><rect transform="translate(828 1202) rotate(62)" x="-15.9" y="-9" width="31.8" height="18" fill="#000"/><rect transform="translate(955 1241) rotate(-80)" x="-15.9" y="-9" width="31.8" height="18" fill="#000"/><rect transform="translate(932 1283) rotate(-5)" x="-15.9" y="-9" width="31.8" height="18" fill="#000"/><rect transform="translate(872 1327) rotate(-15)" x="-9.7" y="-9" width="19.4" height="18" fill="#000"/><rect transform="translate(896 1333) rotate(28)" x="-9.7" y="-9" width="19.4" height="18" fill="#000"/><rect transform="translate(841 1347) rotate(0)" x="-9.7" y="-9" width="19.4" height="18" fill="#000"/><rect transform="translate(980 1355) rotate(0)" x="-9.7" y="-9" width="19.4" height="18" fill="#000"/><rect transform="translate(1118 1351) rotate(70)" x="-15.9" y="-9" width="31.8" height="18" fill="#000"/><rect transform="translate(1252 1090) rotate(80)" x="-15.9" y="-9" width="31.8" height="18" fill="#000"/><rect transform="translate(1288 1178) rotate(20)" x="-15.9" y="-9" width="31.8" height="18" fill="#000"/><rect transform="translate(1317 1165) rotate(60)" x="-9.7" y="-9" width="19.4" height="18" fill="#000"/><rect transform="translate(1394 1176) rotate(-60)" x="-9.7" y="-9" width="19.4" height="18" fill="#000"/><rect transform="translate(1470 1276) rotate(0)" x="-15.9" y="-9" width="31.8" height="18" fill="#000"/><rect transform="translate(1400 1336) rotate(50)" x="-15.9" y="-9" width="31.8" height="18" fill="#000"/><rect transform="translate(1609 1144) rotate(0)" x="-9.7" y="-9" width="19.4" height="18" fill="#000"/><rect transform="translate(1577 1221) rotate(-70)" x="-9.7" y="-9" width="19.4" height="18" fill="#000"/><rect transform="translate(1622 1229) rotate(70)" x="-9.7" y="-9" width="19.4" height="18" fill="#000"/><rect transform="translate(1608 1307) rotate(0)" x="-9.7" y="-9" width="19.4" height="18" fill="#000"/><rect transform="translate(1626 1321) rotate(-60)" x="-9.7" y="-9" width="19.4" height="18" fill="#000"/><rect transform="translate(139 336) rotate(-55)" x="-13.2" y="-9" width="26.5" height="18" fill="#000"/><rect transform="translate(157 262) rotate(-62)" x="-9.6" y="-9" width="19.2" height="18" fill="#000"/><rect transform="translate(117 271) rotate(-60)" x="-9.7" y="-9" width="19.4" height="18" fill="#000"/><rect transform="translate(120 307) rotate(-75)" x="-9.7" y="-9" width="19.4" height="18" fill="#000"/><rect transform="translate(117 330) rotate(-55)" x="-9.7" y="-9" width="19.4" height="18" fill="#000"/><rect transform="translate(149 228) rotate(-55)" x="-9.7" y="-9" width="19.4" height="18" fill="#000"/><rect transform="translate(111 410) rotate(60)" x="-13.2" y="-9" width="26.5" height="18" fill="#000"/><rect transform="translate(131 208) rotate(-15)" x="-15.9" y="-9" width="31.8" height="18" fill="#000"/><rect transform="translate(134 212) rotate(-8)" x="-15.9" y="-9" width="31.8" height="18" fill="#000"/><rect transform="translate(127 217) rotate(-15)" x="-15.9" y="-9" width="31.8" height="18" fill="#000"/><rect transform="translate(131 221) rotate(-15)" x="-15.8" y="-9" width="31.6" height="18" fill="#000"/></mask>
<g clip-path="url(#cp)"><path class="gl" d="M409.2 137V1365M716.4 137V1365M1023.6 137V1365M1330.8 137V1365M102 1211.5H1638M102 1058H1638M102 904.5H1638M102 751H1638M102 597.5H1638M102 444H1638M102 290.5H1638"/><g mask="url(#lm)"><path class="cn" d="M578.2 137L562.8 152.3L562.8 152.3L562.8 152.3L578.2 167.7L562.8 183.1L547.4 183.1L547.4 183.1L532.1 198.4L532.1 198.4L532.1 213.8L516.7 229.1L516.7 229.1L516.7 244.4L516.7 244.4L532.1 244.5L532.1 244.4L547.4 231L550.4 229.1L562.8 218.2L577.8 213.8L578.2 213.3L593.5 199.5L595.6 198.4L608.9 187.8L619.3 183.1L624.2 178.8L639.6 170.7L655 170.8L670.3 177.3L685.7 180L701 181.3L716.4 183.1L701 195.2L700.9 198.4L701 201.8L702 213.8L701 214.5L685.8 229.1L685.7 229.2L679.1 244.4L670.3 254.5L665.2 259.8L655 269.4L648.4 275.1L639.6 283.7L624.2 289.9L623.5 290.5L608.9 303.3L593.5 305.4L593 305.9L593.5 307.1L606.9 321.2L608.9 324.2L624.2 331.1L629.9 336.5L639.6 343.2L648.8 351.9L655 354.3L670.3 358.4L685.7 366.7L686.8 367.2L685.7 369.9L684.7 382.6L670.3 397.7L670.2 397.9L669.5 413.3L670.3 428.7L670.3 428.7L670.3 428.6L685.7 414.1L697.8 413.3L701 410.4L716.4 399.9L731.8 398.4L735.1 397.9L747.1 394L762.5 394.5L777.8 395.3L792.7 397.9L793.2 398L808.6 398.2L823.9 400L839.3 410.9L841.3 413.3L854.6 419.3L865.1 428.6L870 429.8L885.4 429L886.3 428.6L900.7 418.3L916.1 414.3L920 413.3L931.4 407.2L946.8 401L961.3 397.9L962.2 397.5L977.5 385L980.3 382.6L992.9 372.8L999 367.2L1008.2 359.9L1023.6 352.4L1024.4 351.9L1039 338L1041 336.5L1054.3 324.5L1063.3 321.2L1069.7 316.9L1085 308.3L1090.5 305.9L1100.4 298.4L1115.8 292.2L1125.8 290.5L1131.1 287.4L1146.5 280.2L1161.8 277.1L1177 275.1L1177.2 275.1L1192.6 271.2L1207.9 268.5L1223.3 262.3L1238 259.8L1238.6 259.5L1254 252.4L1269.4 249.1L1284.7 247.2L1300.1 245.3L1304 244.4L1315.4 238.3L1330.8 233.3L1346.2 230.4L1351.3 229.1L1361.5 223.2L1376.9 216.4L1382.3 213.8L1392.2 206.7L1407.6 200.2L1423 198.9L1430.3 198.4L1438.3 196.8L1453.7 195.7L1469 195.1L1474.5 198.4L1484.4 207.4L1492.2 213.8L1499.8 218L1515.1 223.5L1530.5 225L1545.8 224.7L1561.2 223.1L1576.6 221.8L1591.9 223.3L1607.3 224.5L1622.6 223.8L1638 220.9M608.9 137L608.9 137L593.5 152.3L584.3 137M714.1 167.7L716.4 167L731.8 167.3L732.8 167.7L731.8 171.7L716.4 183.1L714.1 167.7M489.9 137L486 140L470.6 149.5L469.4 152.3L459.9 167.7L455.3 174.2L451.5 183.1L443.8 198.4L439.9 207.1L437.7 213.8L435.9 229.1L435.6 244.5L438.1 259.8L439.9 262.9L448.8 275.1L455.3 279.6L469.4 290.5L470.6 291.1L486 298.1L498.7 305.9L501.4 309.5L516.7 321.1L532.1 315.8L547.4 305.9L562.8 321.2L562.8 321.2L562.8 321.2L578.2 319.6L578.4 321.2L578.2 336.5L578.2 336.5L578.2 336.5L584.2 351.9L593.5 361.3L600.2 367.2L608.9 369.8L624.2 373.5L639.6 376.2L655 381.2L656.3 382.6L655 397.9L655 398L650.1 413.3L639.6 427.8L639 428.6L639.4 444L639.6 444.3L655 448.3L670.3 448.1L677.3 444L685.7 439.5L701 432.2L711.3 428.6L716.4 427L731.8 426.2L745.4 428.6L747.1 429.1L762.5 431.5L777.8 433.1L793.2 433.4L808.6 435.9L823.9 440.1L833.1 444L839.3 446.2L854.6 450.6L870 452.1L885.4 451L900.5 444L900.7 443.9L916.1 434L931.3 428.6L931.4 428.6L946.8 419.6L962.2 413.3L962.2 413.3L977.5 402.2L982.1 397.9L992.9 388.2L998.2 382.6L1008.2 373.2L1014.4 367.2L1023.6 360.7L1036.3 351.9L1039 349.4L1054.3 338.7L1056.8 336.5L1069.7 328.2L1083.6 321.2L1085 320.2L1100.4 311.6L1108.7 305.9L1115.8 301.1L1131.1 297.7L1146.5 294.5L1157.5 290.5L1161.8 288.6L1177.2 285.5L1192.6 283.8L1207.9 281.9L1222.6 275.1L1223.3 274.7L1238.6 270.9L1254 267.9L1269.4 264.6L1284.7 260.9L1289.1 259.8L1300.1 256.5L1315.4 252.1L1330.8 247.8L1340.6 244.4L1346.2 242.2L1361.5 236.9L1376.9 229.6L1377.5 229.1L1392.2 218.9L1400.9 213.8L1407.6 209.2L1423 205.9L1438.3 203.7L1453.7 204.7L1469 208.5L1474.5 213.8L1482.8 229.1L1484.4 230.8L1499.8 233.9L1515.1 235.9L1530.5 238.3L1545.8 239.8L1561.2 242.3L1573.3 244.5L1576.6 245.3L1591.9 248L1607.3 250.1L1622.6 250.6L1638 248.2M620.6 213.8L624.2 211.2L639.6 206.7L655 210.6L670.3 211.3L672 213.8L671.1 229.1L670.3 230.3L655.1 244.4L655 244.5L648 244.4L639.6 244.1L624.2 244.4L608.9 244.4L607 229.1L608.9 228.3L620.6 213.8M560.3 244.4L562.8 242.2L578.2 242.7L592.1 244.4L578.2 256.1L573 259.8L562.8 270.2L561.7 259.8L560.3 244.4M637.7 259.8L639.6 250.9L639.8 259.8L639.6 259.9L637.7 259.8M587.8 275.1L593.5 272.7L608.9 261.5L624.2 261L631 275.1L624.2 280.5L610.5 290.5L608.9 291.9L593.5 293.3L578.2 298.1L564 290.5L578.2 279.1L587.8 275.1M330.5 137L332.4 137.9L347.8 139.8L363.1 141.1L378.5 142.2L393.8 142.5L409.2 143.1L424.6 146L439.9 151.6L440.5 152.3L439.9 154.3L436.2 167.7L424.6 181.8L423.9 183.1L415.3 198.4L409.2 206.7L404.2 213.8L393.8 225.7L390.4 229.1L378.5 242.6L376.5 244.4L372.7 259.8L373 275.1L377 290.5L378.5 292.5L392.2 305.9L393.8 308.3L409.2 319.8L412.3 321.2L424.6 331.3L439.9 336.5L439.9 336.5L455.3 336.5L455.3 336.5L470.6 336.3L471.1 336.5L470.6 342.8L462.2 351.9L470.6 367.2L470.6 367.3L486 367.6L501.4 367.2L516.7 367.2L532.1 382.6L532.1 382.6L547.1 397.9L547.4 398L562.8 398.3L578.2 398.7L593.5 398.1L604.3 397.9L608.9 397.9L624.2 397.8L639.6 396.9L640.4 397.9L639.6 410L638.4 413.3L629.1 428.6L629.2 444L637.1 459.3L639.6 461.1L655 470L670.3 472.3L685.7 467.4L701 459.3L701 459.3L716.4 458.2L720.2 459.3L731.8 462.9L747.1 466.9L762.5 468.6L777.8 468.8L793.2 468.9L808.6 469.7L823.9 473.7L839.3 471.3L854.6 470.2L870 469.4L885.4 467.6L899.9 459.3L900.7 458.9L916.1 448L928.4 444L931.4 442.8L946.8 433.7L956 428.6L962.2 425.6L977.5 415.5L980.1 413.3L992.9 401.4L996 397.9L1008.2 385L1010.4 382.6L1023.6 369.9L1027.6 367.2L1039 360.7L1051.1 351.9L1054.3 349.7L1069.6 336.5L1069.7 336.5L1085 329.9L1099.8 321.2L1100.4 320.9L1115.8 311.7L1130.8 305.9L1131.1 305.8L1146.5 304.2L1161.8 300.8L1177.2 297.2L1192.6 293.8L1207.9 291.1L1210.1 290.5L1223.3 286.3L1238.6 281L1254 278.4L1266.9 275.1L1269.4 274.5L1284.7 270.4L1300.1 266.3L1315.4 262.5L1323.4 259.8L1330.8 257.7L1346.2 253.2L1361.5 247.9L1366.3 244.4L1376.9 239.2L1389.2 229.1L1392.2 227L1407.6 218.6L1420.1 213.8L1423 212.9L1438.3 209.3L1453.7 212L1458.3 213.8L1465.6 229.1L1469 241.9L1470.9 244.4L1484.4 249.4L1497.1 244.4L1499.8 243.9L1515.1 244.3L1515.6 244.4L1530.5 253.4L1545.8 257.1L1553.5 259.8L1561.2 264.4L1576.6 270.3L1591.9 274.9L1592.7 275.1L1607.3 279.8L1622.6 282.1L1638 282.4M501.4 351.9L516.7 351.8L517 351.9L516.7 367.2L501.4 351.9M501.4 428.6L501 428.6L501.4 429.9L501.4 428.6L501.4 428.6M439.9 429L424.9 444L439.9 459.3L439.9 459.3L455.3 464.7L470.6 474.7L470.6 474.7L486 476.7L501.4 474.7L516.7 474.7L516.7 474.7L516.7 459.3L516.7 459.3L501.4 459.3L497.2 444L486 437.4L470.6 438.9L455.3 441.6L439.9 429M288.4 137L287.4 152.3L286.3 156.1L271 161.3L255.6 162.8L240.2 164.1L239.2 167.7L240.2 169.8L252.5 183.1L255.6 186.3L271 188.4L286.3 185.3L293.3 183.1L301.7 178.9L317 170.4L322.3 167.7L332.4 162.7L347.8 159.2L363.1 158.1L378.5 158.6L393.8 161.4L409.2 164.9L411.9 167.7L410 183.1L409.2 184.2L398.1 198.4L393.8 203.9L384.2 213.8L378.5 219.4L366.1 229.1L363.1 232L347.8 236.7L342.9 244.4L344.3 259.8L340.6 275.1L342.6 290.5L345.5 305.9L346.8 321.2L347.4 336.5L347.8 337.7L356.1 351.9L363.1 356.4L376.7 367.2L378.5 372.3L393.8 382.6L378.5 397.9L378.5 397.9L378.5 413.3L378.5 428.6L378.5 428.6L382.2 444L387.1 459.4L393.8 467.9L400.9 474.7L409.2 478.6L424.6 484.5L439.9 489.8L440.9 490.1L455.3 493.7L470.6 496.8L486 499.6L501.4 504.6L507.4 505.4L516.7 506.3L523.7 505.4L532.1 503.7L547.4 499.2L562.8 495.6L578.2 492.5L584.4 490L593.5 484.3L608.9 477.4L622.9 474.7L624.2 474.4L624.8 474.7L639.6 479.8L655 487.4L662.5 490.1L670.3 493.9L685.7 497.2L701 495.8L716.4 493.5L731.8 493.2L747.1 493.9L762.5 495.5L777.8 494.7L793.2 494L808.6 493.9L823.9 493.7L839.3 492.4L851.4 490.1L854.6 489.3L870 485.3L885.4 481.3L894.4 474.7L900.7 470.5L916.1 460.1L917.7 459.4L931.4 454.3L946.8 447.1L952.3 444L962.2 438.3L977.5 428.7L977.6 428.6L992.9 415.9L995.9 413.3L1008.2 399.5L1009.6 397.9L1023.6 382.6L1023.6 382.6L1039 372.2L1045.9 367.2L1054.3 361.3L1066.3 351.9L1069.7 349.1L1085 340.2L1092.1 336.5L1100.4 332.5L1115.8 324.7L1123.8 321.2L1131.1 318.3L1146.5 316.1L1161.8 312.7L1177.2 309.1L1187.6 305.9L1192.6 304.2L1207.9 300.6L1223.3 296.9L1238.6 290.5L1238.7 290.5L1254 287.5L1269.4 284.4L1284.7 280.6L1300.1 275.9L1306.1 275.1L1315.4 274.2L1330.8 271.6L1346.2 266.1L1361.5 261.9L1369.4 259.8L1376.9 256.2L1388.2 244.4L1392.2 241.7L1406.1 229.1L1407.6 228.3L1423 226.7L1438.3 226.9L1439.6 229.1L1439.2 244.4L1440.5 259.8L1452.1 275.1L1453.7 275.7L1469 275.6L1471.1 275.1L1484.4 272.4L1494.8 275.1L1499.8 277L1515.1 288.8L1518.1 290.5L1530.5 296.8L1545.8 301.1L1561.2 303.2L1575.8 305.9L1576.6 306L1591.9 312.7L1606.2 321.2L1607.3 322.3L1621.4 336.5L1622.6 337.5L1638 343.3M1423 244.4L1423 244.4L1423 259.8L1423 259.8L1423 259.8L1423 244.4L1423 244.4M463.7 382.6L470.6 382.2L472.4 382.6L470.6 390.7L468.1 398L468.1 413.3L455.3 417.6L439.9 417.1L424.6 414.9L409.2 415.4L393.8 413.3L409.2 397.9L409.2 397.9L424.6 396.1L439.9 390.2L455.3 385.9L463.7 382.6M477.3 398L486 396L488.1 397.9L501.4 410.5L504.6 413.3L501.4 414L486 414.2L476.5 413.3L477.3 398M514 428.6L516.7 420.4L529.8 428.7L516.7 432.4L514 428.6M540.2 428.6L547.4 427.9L562.8 425L578.2 422.5L593.5 422.9L608.9 428.1L609.3 428.6L608.9 436.1L593.5 440.7L588 444L578.2 447.9L566.2 444L562.8 440.9L547.4 430.4L540.2 428.6M221.6 137L224.2 152.3L224.9 153.8L231.5 167.7L239.4 183.1L240.2 185L253.1 198.4L255.6 200.9L271 204.6L286.3 203.4L301.7 200.3L307.1 198.4L317 193.3L330.5 183.1L332.4 181.9L347.8 174.7L363.1 173.5L378.5 182.5L379 183.1L378.5 184.8L375.8 198.4L363.1 211.7L356.7 213.8L347.8 216.6L332.4 224.3L330.6 229.1L331.5 244.4L325.3 259.8L317 265L301.7 268.9L292.4 275.1L297 290.5L301.7 304.3L302.5 305.9L304 321.2L317 334.3L318.9 336.5L332.4 344.8L336.6 351.9L347.8 365.2L350.4 367.2L353.8 382.6L347.8 393.1L336.1 397.9L332.4 400.5L319.3 413.3L317.1 428.6L321.9 444L332.4 455.1L336.1 459.3L347.8 470.6L350.9 474.7L363.1 482.9L374.8 490L378.5 491.6L393.8 497.3L409.2 503L415.3 505.4L424.6 508.7L439.9 513.2L455.3 517.5L467.4 520.8L470.6 521.5L486 522.4L501.4 522.4L516.7 522.9L532.1 523.2L547.4 521.2L551.1 520.8L562.8 518.9L578.2 514.6L593.5 507.6L599.2 505.4L608.9 501.3L624.2 498.3L639.6 503.3L643.5 505.4L655 510.2L670.3 515.8L685.7 517.2L701 516.6L716.4 515.8L731.8 515.7L747.1 516.6L762.5 517.1L777.8 516.7L793.2 515.5L808.6 514.1L823.9 512.2L839.3 509.1L850.8 505.4L854.6 504.2L870 500L885.4 494.2L891.6 490.1L900.7 483.8L915.9 474.7L916.1 474.6L931.4 466.3L946.8 459.5L947 459.3L962.2 451.8L975.6 444L977.5 442.9L992.9 428.8L993.3 428.6L1008.2 418.2L1010.8 413.3L1023.6 398.2L1023.8 397.9L1039 384.4L1041.3 382.6L1054.3 373.6L1063.3 367.2L1069.7 362.5L1085 352.5L1086 351.9L1100.4 344.7L1115.8 338.3L1121.6 336.5L1131.1 333L1146.5 328L1161.8 324.1L1170 321.2L1177.2 318.8L1192.6 315.7L1207.9 312.7L1223.3 307.6L1227.9 305.9L1238.6 302.8L1254 300L1269.4 297.7L1284.7 292.3L1291.9 290.5L1300.1 289.3L1310.3 290.5L1315.4 291.4L1330.8 293.2L1338.8 290.5L1346.2 287.6L1361.5 282.5L1376.9 290.4L1377 290.5L1392.2 305.9L1392.2 305.9L1407.6 321.2L1406.7 336.5L1407.6 336.7L1407.9 336.5L1423 322.7L1435.2 321.2L1438.3 320.8L1453.7 312.2L1465 305.9L1469 304.6L1484.4 304.6L1486.2 305.9L1499.2 321.2L1499.8 321.6L1515.1 336.5L1515.1 336.6L1530.5 345.1L1545.8 346.1L1559.7 336.5L1561.2 336.3L1561.7 336.5L1576.6 351.9L1576.6 351.9L1576.6 352.3L1574.3 367.3L1576.6 368.2L1591.9 375L1607.3 381.4L1610.2 382.6L1622.6 388.8L1638 397.8M271 301.2L264.9 305.9L271 315.3L280.9 305.9L271 301.2M208.8 137L209.5 138L216.8 152.3L224.1 167.7L224.9 168.9L233.5 183.1L239.9 198.4L240.2 199L254.9 213.8L255.6 214.6L271 218.2L286.3 217.3L301.7 219.4L307.4 229.1L316 244.4L301.7 251.3L293.6 259.8L286.3 264.6L276.2 275.1L271 289.4L269.8 290.5L255.6 298.3L248.1 305.9L251.9 321.2L255.6 326.1L264.1 336.5L270.7 351.9L271 352.1L274.4 351.9L286.3 351L288.8 351.9L299.8 367.2L292.1 382.6L287.1 397.9L286.3 402.1L284.1 413.3L284.2 428.7L284.4 444L272.1 459.3L286.3 471.3L294.3 474.7L301.7 477.9L317 483.5L330.8 490.1L332.4 490.7L347.8 498.1L363.1 504.4L365.4 505.4L378.5 510.5L393.8 516.2L404.4 520.8L409.2 522.7L424.6 528.2L439.9 533.2L448.4 536.1L455.3 538.2L470.6 541.2L486 541.4L501.4 539L516.7 539.5L532.1 540.3L547.4 539.2L562.8 537.7L570.3 536.1L578.2 534.5L593.5 527.2L604.2 520.8L608.9 518.8L624.2 517.3L635.4 520.8L639.6 522.1L655 528.6L670.3 535.1L673.8 536.1L685.7 538.4L701 538.8L716.4 539.1L731.8 538.7L747.1 538.7L762.5 538.9L777.8 538.3L793.2 537.2L797.4 536.1L808.6 533.6L823.9 529.8L839.3 525.1L849.5 520.8L854.6 519.1L870 514.5L885.4 508L889 505.4L900.7 497.8L915.9 490.1L916.1 489.9L931.4 480.1L945.5 474.7L946.8 474.3L962.2 465.2L972.9 459.3L977.5 456.6L992.9 446.8L997.7 444L1008.2 438.3L1023.6 429.4L1024.7 428.6L1039 418.7L1043 413.3L1040.6 397.9L1054.3 388.9L1062.1 382.6L1069.7 378L1084 367.2L1085 366.6L1100.4 359.9L1112.6 351.9L1115.8 350.5L1131.1 346.4L1146.5 340.3L1155.6 336.5L1161.8 334.6L1177.2 330.4L1192.6 329L1207.9 328.4L1223.3 325.3L1231.6 321.2L1238.6 318.6L1254 318.5L1264.2 321.2L1269.4 325L1284.7 336.3L1290.2 321.2L1300.1 318.9L1315.4 319.2L1319.2 321.2L1315.4 336.5L1300.1 336.5L1300.1 336.5L1300.1 351.9L1300.1 351.9L1311.2 367.2L1315.4 371L1325.9 382.6L1330.8 384.7L1346.2 393.3L1358.5 397.9L1361.5 398.3L1362.6 397.9L1376.9 387.5L1392.2 382.9L1392.8 382.6L1407.6 367.9L1409.7 367.2L1423 356.9L1438.3 362L1453.7 367.2L1453.7 367.2L1469 382.6L1469 397.9L1469 413.3L1469 413.4L1484.4 413.3L1499.8 428.6L1499.8 428.6L1515.1 428.6L1530.5 444L1530.5 444L1545.8 459.3L1545.8 459.3L1561.2 459.3L1576.6 474.7L1576.6 474.7L1591.9 474.7L1603 490.1L1607.3 492L1622 505.4L1622.6 505.8L1638 509.8M255.6 424L254.3 428.6L255.6 430.8L259.1 428.6L255.6 424M199.2 137L209.4 152.3L209.5 152.6L217.8 167.7L224.9 178.5L227.6 183.1L233.1 198.4L240.2 211.7L242.3 213.8L253.9 229.1L255.6 232.1L271 241.5L278.5 244.4L271.7 259.8L271 260.6L257.1 275.1L255.6 276.6L241 290.5L240.2 291.3L224.9 305.8L224.8 305.9L220.8 321.2L222.5 336.5L224.5 351.9L224.9 352.9L236.9 351.9L240.2 351.8L240.3 351.9L252 367.3L241.8 382.6L240.2 387.4L235.6 397.9L235.1 413.3L240.2 421.8L241 428.6L242.7 444L240.2 450.1L237.2 459.4L236.3 474.7L240.2 489.3L240.7 490.1L255.6 499.4L269.8 505.4L271 505.8L286.3 507.6L301.7 510.1L317 512.8L332.4 516.1L347.8 519.7L351.6 520.8L363.1 524.4L378.5 529L393.8 533.7L400.5 536.1L409.2 540.2L424.6 546.4L439.9 550.5L442.8 551.5L455.3 556.2L470.6 559.4L486 559.8L501.4 558.4L516.7 557.1L532.1 557.6L547.4 558.5L562.8 559.5L578.2 559.4L593.5 557.4L602.3 551.5L608.9 546.1L624.2 540.2L639.6 540.9L655 544.4L670.3 548.7L683.2 551.5L685.7 552.1L701 555.9L716.4 559L731.8 559.8L747.1 559.3L762.5 560L777.8 560.2L793.2 559.2L808.6 556.9L823.4 551.5L823.9 551.2L839.3 544.2L854.6 538.4L858.8 536.1L870 529.8L885.4 522.7L888.4 520.8L900.7 512.1L912.2 505.4L916.1 503.4L931.4 494.6L940.8 490.1L946.8 486.8L962.2 478.2L970.3 474.7L977.5 471.2L992.9 462.3L998.2 459.3L1008.2 453.1L1023.3 444L1023.6 443.8L1039 437.4L1045.5 428.6L1054 413.3L1054.3 412.7L1069.7 403.7L1079.8 397.9L1085 394.9L1100.4 387.5L1106.4 382.6L1115.8 374.7L1124 367.2L1131.1 362.5L1146.5 353.8L1150.3 351.9L1161.8 346.6L1177.2 341.5L1192.6 342.9L1207.9 345.8L1223.3 349.2L1229.8 351.9L1238.6 358.9L1245.9 367.2L1251.9 382.6L1254 386.8L1263.7 398L1269.4 401.1L1284.7 404.6L1300.1 407.6L1315.4 411.2L1318.4 413.3L1330.8 428.6L1330.8 428.6L1346.2 429.2L1352.6 428.6L1361.5 428.5L1376.9 423.2L1392.2 419.1L1407.6 424.1L1417.7 428.6L1423 443.7L1423 444L1426.8 459.3L1432.8 474.7L1438.3 490.1L1438.3 490.1L1453.7 492.8L1465.9 505.4L1469 508.2L1479.8 520.8L1484.4 527.1L1493.2 536.1L1499 551.5L1499.8 552.6L1515.1 556.5L1530.5 551.5L1545.8 551.5L1561.2 566.8L1561.2 566.8L1576.6 566.8L1591.9 582.1L1591.9 582.1L1607.3 597.5L1607.3 597.5L1622.6 611.8L1623.4 612.8L1638 622.2M1576.6 551.5L1591.9 551.1L1592.2 551.5L1591.9 566.8L1576.6 551.5M189.6 137L194.2 142.8L200.8 152.3L209.5 164.1L211.5 167.7L219.9 183.1L224.9 194.2L226.3 198.4L231.2 213.8L232.5 229.1L230.2 244.4L224.9 253.5L222.6 259.8L209.9 275.1L209.5 275.7L204.5 290.5L198.3 305.9L194.7 321.2L194.2 324.1L191.7 336.5L188.9 351.9L188.6 367.2L187.9 382.6L185.1 397.9L182.9 413.3L186.5 428.6L191.7 444L194.2 457.1L196.3 459.4L209.5 472L210.1 474.7L209.5 479.4L204.2 490.1L194.2 497.5L192.6 505.4L194.2 511.5L209.5 510.1L224.9 514.5L240.2 520.4L241 520.8L255.6 527.5L271 535.9L271.6 536.1L286.3 540.6L301.7 545.1L317 549.2L332.4 549.9L347.8 551.1L349.4 551.5L363.1 554.2L378.5 556.8L393.8 560.5L409.2 566.3L410.4 566.8L424.6 571.5L439.9 575.5L455.3 578.4L470.6 581.1L486 581.6L501.4 581.2L516.7 580.3L532.1 580.3L547.4 581.5L554.3 582.1L562.8 583L578.2 582.6L593.2 582.1L593.5 582.1L608.9 579.6L624.2 574L636.3 566.8L639.6 565L655 562.4L670.3 563.9L682.3 566.8L685.7 568.3L701 577.7L710.7 582.1L716.4 584L731.8 584.4L747.1 584L762.5 583.6L777.8 582.4L780 582.1L793.2 579.6L808.6 577L823.9 571.5L832.1 566.8L839.3 563.3L854.6 554.9L860 551.5L870 546.5L885.4 536.9L888.5 536.1L900.7 532.4L915.9 520.8L916.1 520.6L931.4 506.8L946.8 505.4L946.8 505.4L962.2 492.1L976.7 490.1L977.5 489.9L992.9 475.1L1004.8 474.7L1008.2 474.6L1023.6 460.4L1027 459.3L1039 457.5L1054.3 447.1L1057.9 444L1069.7 433.7L1079.4 428.6L1085 424.4L1100.4 413.5L1100.7 413.3L1115.8 398.3L1116.1 397.9L1130 382.6L1131.1 381.5L1146.4 367.2L1146.5 367.2L1161.8 360.4L1176.5 351.9L1177.2 351.6L1178.4 351.9L1192.6 359L1207.9 367.2L1208.1 367.2L1222.6 382.6L1223.3 383.6L1232.2 397.9L1238.6 407.1L1243.7 413.3L1254 421.5L1269.4 426.9L1284.7 428.6L1284.9 428.6L1296.4 444L1300.1 449.7L1314.7 459.4L1315.4 459.9L1330.7 474.7L1330.8 474.7L1334 474.7L1346.2 474.6L1361.5 474.7L1361.5 474.7L1376.9 490.1L1376.9 490.1L1392.2 505.4L1392.2 505.4L1395.5 520.8L1407.6 536.1L1406.7 551.5L1407.6 552.6L1423 551.5L1438.3 551.5L1453.7 561.8L1469 566.1L1469.6 566.8L1473.9 582.1L1484.4 594.1L1487 597.5L1493.8 612.8L1497.4 628.2L1499.2 643.5L1499.8 644.3L1513.4 658.9L1515.1 661.3L1528 674.2L1530.5 677.7L1542 689.6L1544.9 704.9L1545.8 706.2L1561 720.3L1561.2 720.5L1574.9 735.6L1576.6 736.8L1591.9 748.1L1595.5 751L1607.3 755.5L1621.1 766.4L1622.6 767.5L1638 776M179.9 137L191.9 152.3L194.2 155.9L202.1 167.7L209.5 180.9L210.5 183.1L215.9 198.4L219.6 213.8L218.7 229.1L214.6 244.4L209.5 255.8L207.8 259.8L198.4 275.1L194.2 282.3L187.9 290.5L178.8 305.9L178.8 305.9L174.3 321.2L169.3 336.5L163.4 349.5L162.7 351.9L159.1 367.2L158.7 382.6L160.6 397.9L160.2 413.3L163 428.6L163.4 432.3L165.7 444L163.4 450.5L157 459.3L159 474.7L163.4 479.8L168.4 490.1L174 505.4L178.2 520.8L178.8 522.1L187.5 536.1L194.2 540.1L209.5 539.4L224.9 539.3L240.2 544.7L253.2 551.5L255.6 553.5L271 562.3L286.3 566.8L286.4 566.8L301.7 574L317 578.1L331.8 582.1L332.4 582.3L347.8 585.6L363.1 586.4L378.5 587.3L393.8 589.2L409.2 591.7L424.6 594.4L439.1 597.5L439.9 597.8L455.3 602.5L470.6 606.6L486 611.9L488.5 612.8L501.4 616.9L516.7 617L532.1 615.9L546.8 612.8L547.4 612.7L562.8 608.1L578.2 605.5L593.5 603.1L608.9 601.8L624.2 600.5L639.6 599.7L655 598.7L661.1 597.5L670.3 595.5L685.7 597L687.7 597.5L701 600.6L716.4 603.1L731.8 602.4L747.1 600.4L762.5 598.7L769 597.5L777.8 596.2L793.2 594.9L808.6 594.6L823.9 591.9L839.3 586.4L849.2 582.1L854.6 579L870 571.6L878.7 566.8L885.4 562.6L900.7 554.6L905.9 551.5L916.1 545.7L931.3 536.1L931.4 536L946.6 520.8L946.8 520.6L955.1 520.8L962.2 520.9L962.5 520.8L977.3 505.4L977.5 505.3L986.3 505.4L992.9 505.5L993 505.4L1008.2 490.6L1017.4 490.1L1023.6 489.9L1039 478.3L1043.7 474.7L1054.3 466.4L1062.3 459.3L1069.7 453.3L1080.1 444L1085 441.2L1100.4 436.5L1112.8 428.6L1115.8 426.5L1131.1 415.8L1135.6 413.3L1146.5 398.4L1147.2 397.9L1161.8 383.2L1177.2 382.8L1192.6 395.2L1194.8 397.9L1206 413.3L1207.9 414.4L1223.3 428.6L1223.3 428.6L1233.5 444L1238.6 453.2L1242.6 459.3L1253.9 474.7L1254 474.8L1262.1 490L1269.4 505.4L1269.4 505.4L1284.7 512.6L1300.1 520.8L1300.1 520.8L1315.4 520.8L1330.8 527.9L1346.2 536.1L1346.2 536.1L1350 551.5L1359.6 566.8L1361.5 568L1376.9 581.7L1377.3 582.1L1385.7 597.5L1392.2 605L1406 612.8L1407.6 628.2L1407.6 628.2L1423 643.5L1423 658.9L1423 658.9L1435.2 674.2L1438.3 677.2L1453.7 674.2L1453.7 674.2L1453.7 658.9L1453.7 643.5L1469 641.3L1470.3 643.5L1484.4 657.1L1485.6 658.9L1492.5 674.2L1499.8 684.5L1501.4 689.6L1509.6 705L1515.1 711.5L1520.8 720.3L1530.5 731.7L1533.7 735.7L1545.8 748.8L1548.8 751L1545.8 766.4L1530.5 766.4L1530.5 766.4L1530.5 781.7L1530.5 781.7L1541.1 797L1544.6 812.4L1545.8 813.6L1561.2 812.4L1572.7 827.8L1576.6 828.5L1591.9 830.5L1607.3 827.8L1612.1 843.1L1622.6 844.7L1638 850.2M1423 628.2L1438.3 628.2L1453.7 628.1L1453.8 628.2L1453.7 643.5L1438.3 643.5L1423 628.2M1469 689.6L1469 689.6L1469 689.6L1469 689.6L1469 689.6M1545.8 766.4L1561.2 763.3L1576.6 765.8L1577.8 766.4L1576.6 781.7L1561.2 781.7L1545.8 766.4M1576.6 781.7L1591.9 779L1607.3 781.6L1607.4 781.7L1607.3 784.2L1591.9 797L1591.9 812.4L1576.6 797L1576.6 781.7M171.6 137L178.8 148.3L182 152.3L191.5 167.7L194.2 173.3L199.4 183.1L203.9 198.4L206.7 213.8L205.4 229.1L200.8 244.4L195.2 259.8L194.2 261.5L185.5 275.1L178.8 283.7L173.8 290.5L164.4 305.9L163.4 308.5L159.2 321.2L153.8 336.5L148.5 351.9L148.1 353L142.7 367.2L141.1 382.6L141.6 397.9L144.2 413.3L148.1 428.6L148.1 428.6L148.1 428.7L138.3 444L132.7 451L130.2 459.3L130.1 474.7L132.7 484.1L136.5 490.1L144.5 505.4L148.1 519.2L149.4 520.8L159 536.1L160.4 551.5L163.4 554.7L178.1 566.8L178.8 568.1L194.2 580.2L209.5 580.4L218.8 582.1L224.9 597.5L224.9 597.5L240.2 601L255.6 610.3L263 612.8L271 614.3L286.3 616.3L301.7 615.3L317 613.3L323.3 612.8L332.4 612.2L347.8 612.3L363.1 612.3L369.7 612.8L378.5 613.8L393.8 615.4L409.2 618.2L424.6 623.5L435.4 628.2L439.9 629.7L455.3 634.3L470.6 638.7L486 639.5L501.4 642L516.7 639.7L532.1 637.5L547.4 635.2L562.8 633L578.2 631L593.5 629.4L608.9 628.2L610.4 628.2L624.2 627.8L639.6 627.4L655 627.4L670.3 627.2L685.7 627.6L699.9 628.2L701 628.2L701.2 628.2L716.4 623.3L731.8 619.9L747.1 617.1L762.5 615.5L777.8 613.2L779.9 612.9L793.2 611L808.6 609.3L823.9 607.4L839.3 604.6L854.6 601.6L870 597.8L870.7 597.5L885.4 588.9L896.4 582.1L900.7 579.4L916.1 568.9L920.9 566.8L931.4 562.2L946.5 551.5L946.8 551.3L962.2 542.7L974.2 536.1L977.5 535.1L992.9 527.5L1007.5 520.8L1008.2 520.5L1023.6 514.4L1037.3 505.4L1039 504.6L1054.3 494.7L1069.7 492.7L1077.4 490.1L1085 486.7L1100.4 480L1112.4 474.7L1115.8 473.2L1131.1 465.1L1146 474.7L1146.5 474.8L1161.8 486.9L1166.8 490L1177 505.4L1177.2 505.5L1192.6 505.4L1192.6 505.4L1192.6 505.4L1207.9 514.2L1215.4 520.8L1223.3 526.4L1238.6 535.9L1238.8 536.1L1247.1 551.5L1254 559.7L1260.8 566.8L1269.3 582.1L1269.4 582.2L1284.7 592.3L1294.6 597.5L1300.1 601L1315 612.8L1315.4 613.2L1330.8 620L1340.8 628.2L1346.2 631L1361.5 642.5L1362.3 643.5L1371.1 658.9L1376.9 664L1384.5 674.2L1392.2 687.6L1393.3 689.6L1397 704.9L1405.1 720.3L1407.6 726.4L1412.6 735.6L1420.2 751L1423 754.8L1434.4 766.4L1438.3 773.3L1447.8 781.7L1453.7 784.9L1467.7 797L1469 798.3L1482 812.4L1484.4 814.7L1499.8 827.4L1504.8 827.8L1515.1 828.4L1530.5 843L1530.6 843.1L1545.8 852.3L1561.2 858L1561.7 858.4L1568.5 873.8L1576.6 881.3L1588.1 889.1L1591.9 891L1607.3 895.8L1622.6 900.7L1638 902M222.3 566.8L224.9 566.4L225.5 566.8L224.9 577.6L222.3 566.8M163.5 137L173.1 152.3L178.8 163.4L181.4 167.7L188.7 183.1L191.6 198.4L192.5 213.8L191.2 229.1L187.2 244.4L181 259.8L178.8 263.3L172.6 275.1L163.4 287.3L161.3 290.5L152.7 305.9L148.1 317.3L146.6 321.2L140.2 336.5L133.8 351.9L132.7 354.7L127.7 367.2L124.3 382.6L121.6 398L127.2 413.3L131.5 428.6L124.9 444L122.2 459.3L122.6 474.7L125.9 490.1L132.7 500.8L135.7 505.4L139.6 520.8L148.1 535.9L148.2 536.1L148.1 536.8L145.6 551.5L148.1 555.4L159 566.8L162.8 582.1L162.5 597.5L162.4 612.9L162.8 628.2L163.4 643.5L163.4 644.2L178.8 649.6L194.2 649.3L209.5 648.8L224.9 648L240.2 646.9L255.6 645.3L271 643.9L275.1 643.5L286.3 642.8L294.1 643.5L301.7 644.3L317 645.6L332.4 645.4L347.8 644.1L353.7 643.5L363.1 642.5L378.2 643.5L378.5 643.6L393.8 644.6L409.2 645.9L424.6 648L439.9 650.4L455.3 653.4L470.6 655.9L486 658L491.5 658.9L501.4 661.3L516.7 662.2L532.1 660.2L545 658.9L547.4 658.5L562.8 655.6L578.2 653.4L593.5 651.4L608.9 647.2L624.2 646.2L639.6 646.2L655 645.6L670.3 644.2L675.8 643.5L685.7 642L701 640.6L716.4 637.5L731.8 635L747.1 633.3L762.5 632.1L777.8 630.5L793.2 628.6L796.6 628.2L808.6 626.5L823.9 624.5L839.3 622.4L854.6 620.2L870 617.5L885.4 613L885.9 612.8L900.7 606L916.1 599L924.3 597.5L931.4 594.6L946.8 582.3L948.2 582.1L962.2 577.9L977.4 566.8L977.5 566.7L992.9 560.1L1007.8 551.5L1008.2 551.4L1023.6 551.4L1039 546.5L1054.3 540.6L1069.7 536.1L1069.7 536.1L1085 533.2L1100.4 535.4L1112.2 536.1L1115.8 536.3L1131.1 543L1140.8 551.5L1146.5 554.7L1161.8 561.5L1177.2 565.5L1192.6 566.7L1192.7 566.8L1207.9 580.3L1215.8 582.1L1223.3 585.9L1227.4 597.5L1234.7 612.8L1238.6 622L1241.9 628.2L1250.7 643.5L1254 650.5L1261.4 658.9L1269.4 663.8L1284.1 674.2L1284.7 674.7L1300.1 686.1L1309.4 689.6L1315.4 691.6L1330.8 697.3L1346.2 702L1361.5 704.2L1362.1 704.9L1365.6 720.3L1376.9 735.3L1377 735.6L1377.7 751L1392.2 762.9L1393.9 766.4L1404 781.7L1407.6 786.1L1414 797L1423 807L1428.4 812.4L1438.3 823.2L1442.9 827.8L1453.7 837.8L1460.3 843.1L1469 855L1483.6 858.5L1484.4 873.8L1484.4 873.8L1498.4 889.1L1499.8 889.6L1515.1 894.8L1530.5 902.3L1544.1 904.5L1545.8 904.6L1561.2 911.4L1576.6 916.6L1585 919.9L1591.9 921.9L1607.3 925.4L1622.6 927.5L1638 928.8M152.6 137L163.4 150.3L164.8 152.3L171.5 167.7L178.7 183.1L178.8 183.8L181.1 198.4L180.9 213.8L178.8 228.6L178.7 229.1L174.4 244.4L169.2 259.8L163.4 270.1L160.9 275.1L150.8 290.5L148.1 295.1L142.9 305.9L135.8 321.2L132.7 327.2L128.2 336.5L118.8 351.9L117.4 355.5L113.2 367.2L110.4 382.6L109.5 397.9L113.2 413.3L114.5 428.6L114 444L113.1 459.3L114 474.7L117 490.1L117.4 491.9L120.5 505.4L127.6 520.8L132.7 529.9L134.9 536.1L136.9 551.5L145.2 566.8L148.1 576.1L149.8 582.1L150.4 597.5L151.2 612.8L152.3 628.2L153.7 643.5L155.3 658.9L159.7 674.2L163 689.6L163.4 690.1L178.8 690.1L183.5 689.6L194.2 688.4L209.5 689L215.3 689.6L224.9 690.7L240.2 691.2L243 689.6L255.6 680.5L265.4 674.2L271 672L286.3 669.6L301.7 669.3L317 669.2L332.4 668.9L347.8 667.5L363.1 666.4L378.5 666.7L393.8 666.5L409.2 667.5L424.6 669.1L439.9 670.9L453.9 674.2L455.3 674.4L470.6 676.2L486 678L501.4 680.1L516.7 678.9L532.1 676.5L539.8 674.2L547.4 673.2L562.8 672.2L578.2 668.7L593.5 664.7L604.3 658.9L608.9 656.5L624.2 653.2L639.6 654.2L655 655.2L670.3 655.3L685.7 655.7L701 651.1L716.4 649.1L731.8 647.6L747.1 646.8L762.5 645.9L777.8 645.6L793.2 645.3L808.6 645.1L823.9 645.6L832.3 643.5L839.3 642.2L854.6 637.5L870 633.8L885.4 628.7L886.9 628.2L900.7 624.5L916.1 619.3L931.1 612.8L931.4 612.7L946.8 607.9L962.2 601.6L975.6 597.5L977.5 597L992.9 594.3L1008.2 590.8L1023.6 588.4L1039 586.8L1054.3 589.1L1069.7 589.8L1085 590.7L1100.4 594.5L1105 597.5L1115.8 604L1131 612.8L1131.1 612.9L1131.4 612.8L1146.5 610.6L1161.8 610.8L1166.5 612.8L1177.2 619.2L1184.9 628.2L1192.6 638.3L1195.2 643.5L1203.3 658.9L1207.9 667.2L1211.9 674.2L1223.3 688.2L1224.6 689.6L1238.6 703.1L1241 704.9L1254 717.6L1257.7 720.3L1269.4 731L1275.9 735.6L1284.7 750.9L1284.8 751L1295 766.4L1297.2 781.7L1300.1 797L1300.1 797.1L1314.6 812.4L1315.4 819L1319.7 827.8L1330.8 832.5L1344.4 843.1L1346.2 843.9L1361.5 852.3L1375.1 858.4L1376.9 858.7L1392.2 861L1407.6 873L1408.7 873.8L1423 878.3L1435 889.2L1438.3 891.1L1453.7 899.5L1461.3 904.5L1469 907.6L1484.4 914.2L1499.8 919.8L1500 919.9L1515.1 931.5L1523.2 935.2L1530.5 937.4L1545.8 938.2L1561.2 938.1L1576.6 937.8L1591.9 945.5L1606.6 950.5L1607.3 950.8L1622.6 955.1L1638 958.6"/><path class="cp" d="M102 138.2L117.4 140.8L132.7 143L148.1 151L149.1 152.3L162.1 167.7L163.4 171.4L168.9 183.1L171.6 198.4L170.5 213.8L167.5 229.1L163.4 241.8L163 244.4L158.7 259.8L150.7 275.1L148.1 279.2L141.7 290.5L134.2 305.9L132.7 308.8L126.2 321.2L117.8 336.5L117.4 337.3L107.6 351.9L102 364.4M102 421.1L102.6 428.6L102.6 444L102.4 459.3L102.3 474.7L102 482.4M102 521.3L113.3 536.1L116.5 551.5L117.4 552.5L131.5 566.8L132.7 568.8L140.5 582.1L142.8 597.5L144.2 612.8L145.1 628.2L145.9 643.5L146.9 658.9L148.1 671.9L148.5 674.2L148.2 689.6L161.5 705L163.3 720.3L163.4 720.5L178.8 721.9L194.2 728.6L204.3 735.6L209.5 737.7L224.9 738.6L235.9 735.6L240.2 734.3L255.6 726.4L265.8 720.3L271 717L286.3 709.2L294.6 704.9L301.7 702.1L317 697.5L332.4 698.6L347.8 700.2L363.1 704.1L378.5 690.8L382.7 689.6L393.8 685.4L409.2 684.6L424.6 684.3L439.9 684.2L455.3 685.4L470.6 687.2L486 689.2L488.5 689.6L501.4 695.3L508.8 704.9L516.7 714.2L524.7 720.3L532.1 729L547.4 730.2L562.8 731.4L578.2 721.7L591.5 720.3L592.4 704.9L589.7 689.6L593.5 676.8L608.9 689.5L624.2 687.4L639.6 687.5L655 678.4L657.2 674.2L670.3 664.7L685.7 664.5L701 662.1L716.4 660.1L731.8 659L747.1 659.3L762.5 659.8L777.8 663.1L793.2 667.1L808.6 668.8L823.9 671.6L839.3 666.3L854.6 659.9L866.3 658.9L870 658.6L885.4 651.8L900.7 644.1L905.4 643.5L916.1 642.5L931.4 639.1L946.8 634.7L962.2 630.5L972.7 628.2L977.5 627L992.9 625.2L1008.2 627.3L1011.8 628.2L1023.6 636.2L1039 638.7L1054.3 640.6L1069.7 643.5L1069.7 643.5L1084.9 658.9L1085 659L1100.4 659.2L1115.8 660.9L1131.1 667.4L1141.3 674.2L1146.5 677.8L1160.7 689.6L1161.8 690.9L1169.3 704.9L1176.3 720.3L1177.2 721.3L1191.3 735.6L1192.6 736.9L1207.9 751L1208 751L1223.3 763.3L1228.7 766.4L1238.6 774.8L1252.7 781.7L1254 782.4L1269.4 796.3L1269.9 797L1284.7 811L1285.8 812.4L1300.1 827.5L1300.2 827.8L1311.6 843.1L1315.4 846.2L1328.9 858.4L1330.8 860.2L1346.2 872.7L1349.8 873.8L1361.5 878.2L1376.9 888.7L1378.3 889.1L1392.2 895.5L1407.6 904.5L1407.6 904.5L1423 915.9L1435.3 919.9L1438.3 920.5L1453.7 930.7L1469 935.1L1469.3 935.2L1484.4 946.3L1493.3 950.5L1499.8 953.3L1515.1 962.2L1530.1 965.9L1530.5 966L1533.2 965.9L1545.8 965.5L1547.5 965.9L1561.2 971.1L1576.6 974.7L1591.5 981.2L1591.9 981.4L1593.8 981.2L1607.3 980.3L1615.7 981.2L1622.6 983L1638 993.6M102 143.8L117.4 146.9L132.7 150.8L135.4 152.3L148.1 160.5L154.5 167.7L160.7 183.1L163 198.4L161.4 213.8L159.7 229.1L157.6 244.4L149 259.8L148.1 261.5L143.7 275.1L133.1 290.5L132.7 291.2L127.4 305.9L117.4 320.9L117 321.2L106.8 336.5L102 343.8M102 540.9L109.2 551.5L117.4 561.4L122.7 566.8L132 582.1L132.7 584.8L136.3 597.5L138.8 612.8L140.2 628.2L140.5 643.5L141.4 658.9L142.9 674.2L132.7 686.4L131.5 689.6L132.7 691.7L145.8 704.9L148.1 707.2L159.5 720.3L163.4 726.9L174.2 735.6L178.8 742.6L192.5 751L194.2 752.1L209.5 761.6L216.6 766.4L224.9 773.7L240.2 772L254.6 766.4L255.6 765.8L271 759.1L286.3 752L301.7 752.3L305.5 751L317 746.3L332.4 738L334.6 735.6L346.6 720.3L347.8 719.7L363.1 715L377.9 704.9L378.5 704.4L393.8 700.8L409.2 697.9L424.6 696.9L439.9 696.1L455.3 696.2L470.6 696.8L486 697.3L494.9 704.9L501.4 712.6L508.6 720.3L511.7 735.7L511.6 751L516.7 765.8L517.5 766.4L531 781.7L532.1 782.3L547.4 783.6L562.8 783.8L573.9 781.7L578.2 780.8L593.5 776.5L608.9 772.9L624.2 768.7L631.7 766.4L639.6 762.5L655 753.1L657.9 751L670.3 739.5L676.4 735.6L685.7 726.1L689.5 720.3L688.9 704.9L685.7 702.6L670.7 689.6L670.3 688.8L668.9 674.2L670.3 673.2L685.7 671.7L695.9 674.2L701 676.9L708.9 674.2L716.4 672.2L728.1 674.2L731.8 674.9L739.5 674.2L747.1 673.5L758.3 674.2L762.5 674.4L777.8 678.2L793.2 684.8L807.4 689.6L808.6 689.9L811.1 689.6L823.9 687.7L839.3 686.7L854.6 684.8L870 682.5L885.4 677.6L897.6 674.2L900.7 673.1L916.1 666.2L931.4 663.1L946.8 659.8L951.8 658.9L962.2 657.3L977.5 657.7L983 658.9L992.9 663.3L1008.2 672L1012.1 674.2L1023.6 685.8L1037.3 689.6L1039 689.7L1054.3 690.9L1069.7 694L1085 699L1098.7 704.9L1100.4 705.7L1115.8 711.9L1131.1 718.9L1133 720.3L1146.5 730.1L1151.6 735.6L1161.8 746.2L1166.2 751L1177.2 763.9L1179.8 766.4L1192.6 777.1L1196.6 781.7L1204.3 797L1207.9 801.1L1218.4 812.4L1223.3 816.8L1236.6 827.8L1238.6 829.2L1254 840.7L1257.6 843.1L1269.1 858.4L1269.4 858.7L1284.4 873.8L1284.7 874L1300.1 875.2L1315.4 874.4L1316.9 889.1L1330.8 899.2L1346.2 904.3L1347.7 904.5L1361.5 911.1L1376.9 919.7L1377.1 919.9L1392.2 930.2L1407.2 935.2L1407.6 935.6L1423 943L1424.6 950.5L1438.3 965.9L1438.3 981.2L1438.3 981.2L1453.7 981.2L1469 982.4L1482.2 981.2L1484.4 981.2L1484.5 981.2L1499.8 996.6L1499.8 996.6L1515.1 998.3L1530.5 1004.8L1545.8 1008.9L1561.2 1011.2L1562.6 1011.9L1576.6 1021.4L1586.7 1027.3L1591.9 1031.2L1607.3 1036.6L1622.6 1040.3L1638 1040.4M102 149.4L114.6 152.3L117.4 152.9L132.7 155.6L147.3 167.7L148.1 169.9L154.4 183.1L159.3 198.4L154.7 213.8L153.9 229.1L152.2 244.4L148.1 251.4L144.5 259.8L137.7 275.1L132.7 282.3L129 290.5L120.9 305.9L117.4 311.2L105.4 321.2L102 326.5M102 551.6L114.7 566.8L117.4 570.1L126 582.1L130.7 597.5L132.7 609.3L133.5 612.8L135.2 628.2L135.1 643.5L135.9 658.9L137.4 674.2L132.7 679.9L128.8 689.6L132.7 696.1L141.4 704.9L148.1 711.6L155.7 720.3L163.4 733.4L166.3 735.6L178 751L178.8 751.7L194.2 765.5L195.4 766.4L209.5 777.8L213.6 781.7L224.9 787.3L240.2 787L255.6 790.1L271 795.1L286.3 791.7L301.7 788.4L312.9 781.7L317 778.9L331 766.3L332.4 765.4L347.8 752.8L351.1 751L362.2 735.6L363.1 734.7L378.5 721.4L379.6 720.3L393.8 714L409.2 707L424.6 706.5L439.9 706.1L455.3 705.8L470.6 705.6L486 705.2L499.2 720.3L499.9 735.6L497.1 751L495.5 766.4L490.1 781.7L486 791.8L484.4 797L481.2 812.4L484.4 827.8L486 830L495.2 843.1L489.3 858.4L501.4 862L516.7 860.3L532.1 858.6L532.9 858.4L547.4 843.5L547.8 843.1L562.8 832.8L572 827.8L578.2 825.3L593.5 821L608.9 817.4L621 812.4L624.2 811.4L633.7 812.4L639.6 813.4L655 814.2L663.5 812.4L670.3 811L685.7 805.5L695 797L701 791.8L710.6 781.7L716.4 776.7L729 766.4L731.8 764.3L747.1 751.6L747.6 751L750.1 735.6L747.9 720.3L747.1 719.5L731.9 704.9L731.8 704.6L721.1 689.6L731.8 686.4L747.1 681.5L762.5 681.7L777.8 687.4L781.8 689.6L793.2 695.1L808.6 700L823.9 703.2L829.2 704.9L839.3 708L854.6 705.6L857.8 704.9L870 702.7L885.4 699.7L900.7 692.1L910.8 689.6L916.1 688.7L931.4 688L940 689.6L946.8 691.1L962.2 693.1L977.5 697.1L991.2 704.9L992.9 705.5L1008.2 707.4L1023.6 709.6L1039 713.2L1054.3 716.6L1069.7 719.8L1070.6 720.3L1085 731.7L1090.2 735.6L1100.4 744.2L1108.3 751L1115.8 753.3L1131.1 764.3L1133.1 766.3L1146.5 777.5L1150.8 781.7L1160.5 797L1161.5 812.4L1161.8 813.4L1176.3 827.8L1177.2 828.5L1192.6 830.4L1203.7 843.1L1207.9 847.9L1215.8 858.4L1220.8 873.8L1223.3 875.5L1233.4 873.8L1238.6 869.7L1254 873.5L1254.3 873.8L1269.4 888.3L1284.7 889.1L1284.8 889.1L1284.7 904.5L1295.4 919.8L1300.1 929.4L1304.6 935.2L1315.4 950.6L1315.4 950.6L1330.8 958L1342.3 965.9L1346.2 968.1L1361.5 981.2L1361.5 981.2L1376.9 984.1L1392.2 994.3L1393.8 996.6L1407.6 1009.9L1409.9 1011.9L1423 1017.2L1438.3 1023.3L1445.4 1027.3L1453.7 1031.7L1469 1032.3L1484.4 1030.2L1499.8 1035.8L1515.1 1042.2L1515.9 1042.7L1530.5 1053.4L1536.7 1058L1545.8 1064.2L1561.2 1069.6L1576.6 1072.3L1588.4 1073.3L1591.9 1073.9L1607.3 1075.6L1622.6 1082.3L1638 1082.6M996.8 1365L992.9 1362.1L977.5 1360.1L962.2 1360.9L946.8 1361.2L931.4 1360.6L916.1 1355.4L900.7 1350L885.4 1356.9L870 1358.5L854.6 1358.9L839.3 1362.3L836.2 1365M102 154.5L117.4 157.3L132.7 159.6L142.4 167.7L148.1 183.1L148.1 183.1L155.5 198.4L148.1 213.8L148.1 213.8L148.1 229.1L146.8 244.4L140.6 259.8L132.7 274L131.8 275.1L125.1 290.5L117.4 303L102 305.9M102 559.8L107.9 566.8L117.4 578.5L120 582.1L126.1 597.5L129 612.8L130.5 628.2L130.1 643.5L130.9 658.9L132.1 674.2L126.2 689.6L132.7 700.5L137.1 704.9L148.1 715.9L151.9 720.3L161.4 735.6L163.4 737.6L175.4 751L178.8 754.2L191.7 766.4L194.2 771.2L205.4 781.7L209.5 791.2L224.9 795.1L240.2 794.9L245.5 797L255.6 804.9L266.6 812.4L271 820L286.3 816.1L295 812.4L301.7 809.5L317 802.5L332.4 797.3L333.2 797L347.8 786.5L360.6 781.7L363.1 779.9L378.1 766.4L378.5 766L381.9 751L385.8 735.6L393.8 727.7L397.4 720.3L409.2 711.9L424.6 711.1L439.9 710.8L455.3 710.5L470.6 710.9L486 713.7L491.8 720.3L495.5 735.6L487.4 751L486 754.5L481.4 766.4L474.9 781.7L470.6 791.9L469.1 797L466.2 812.4L466.2 827.8L464.2 843.1L458.3 858.4L455.3 872.2L455.2 873.8L455.3 873.9L470.6 876.2L486 876.5L501.4 874.7L516.7 874.1L523.3 873.8L532.1 872.5L541.7 873.8L547.4 874L562.8 874.4L578.2 876.7L591.1 889.1L593.5 890.9L608.9 892L624.2 892.7L639.6 894.3L655 894.6L670.3 894.9L685.7 897.1L701 889.2L701 889.2L716.4 874.8L717.6 873.8L731.8 863.2L747.1 858.6L747.3 858.4L762.5 843.7L763.2 843.1L766.4 827.8L777.8 812.7L777.9 812.4L793.2 797.7L802.9 797L808.6 793.5L817.3 781.7L808.6 779.5L793.2 778.5L777.8 770.6L776.3 766.4L777.8 763.5L779.6 751L781.6 735.6L777.8 731.1L767.4 720.3L762.5 708.2L759.3 704.9L747.1 691.9L745.8 689.6L747.1 689.1L762.5 689L764 689.6L777.8 698.6L793.2 703L798.3 704.9L808.6 711.6L823.9 716.3L835.2 720.3L839.3 721.8L854.6 727.8L870 731.4L885.4 729.4L900.7 725.7L916.1 723.2L931.4 720.4L946.8 722.8L962.2 724.9L977.5 722.3L992.9 723L1008.2 727.7L1020.8 735.6L1023.6 738.3L1039 746.6L1049.5 751L1054.3 764.7L1069.7 766.2L1069.9 766.4L1069.7 781.7L1054.3 773.5L1053.8 781.7L1054.3 782.4L1069.7 797L1069.7 797L1085 812.4L1085 812.4L1100.4 819.6L1112.6 827.8L1115.8 830.6L1131.1 843.1L1131.1 843.1L1146.5 849.3L1161.8 858.3L1162.2 858.4L1177.2 868.9L1186.9 873.8L1192.6 879.8L1207.9 889.1L1207.9 889.1L1207.9 889.1L1223.3 889.1L1223.3 889.1L1223.3 904.5L1223.3 904.5L1223.3 904.5L1238.6 919.9L1238.6 919.9L1249.8 935.2L1254 940L1269.4 950.5L1269.4 950.5L1269.4 965.9L1284.7 981.2L1269.4 981.3L1268.5 996.6L1269.4 997.8L1281 1011.9L1284.7 1016.5L1288.1 1012L1284.7 996.6L1300.1 992.6L1307.3 996.6L1315.4 1001.7L1323.8 1011.9L1330.8 1023L1334 1027.3L1340.2 1042.7L1346.2 1049.4L1361.5 1053.3L1376.9 1058L1376.9 1058L1376.9 1058L1392.2 1057.1L1407.6 1057.7L1409.9 1058L1412.8 1073.3L1407.6 1073.9L1392.6 1088.7L1392.2 1093.9L1376.9 1104L1376.9 1104L1362 1119.4L1376.4 1134.8L1376.9 1135L1377.5 1134.8L1392.2 1119.4L1392.2 1119.4L1407.6 1108L1417.8 1104L1423 1102.4L1437.4 1088.7L1437.7 1073.3L1437.9 1058L1438.3 1058L1438.4 1058L1453.7 1072.1L1458.9 1073.3L1469 1088.7L1469 1088.7L1484.4 1090.6L1499.8 1099.5L1515.1 1103.3L1521.9 1104L1530.5 1107.4L1545.8 1114.9L1554 1119.4L1561.2 1122L1576.6 1133.6L1591.9 1134.7L1592.4 1134.8L1607.3 1139.2L1622.6 1145.9L1638 1149.1M1102.9 781.7L1115.8 771.5L1131.1 775.3L1138 781.7L1146.5 795.2L1147.9 797L1146.5 806.7L1141 812.4L1131.1 822.3L1118.1 812.4L1115.8 811.8L1102.1 797.1L1102.9 781.7M823.9 796.4L822.4 797.1L823.9 797.1L824.2 797.1L823.9 796.4M624.2 934.6L624 935.2L621.3 950.6L624.2 959.4L636.5 950.5L625.5 935.2L624.2 934.6M608.9 1009.9L608.8 1011.9L607.6 1027.3L608.9 1030.7L614.7 1027.3L609.2 1011.9L608.9 1009.9M624.2 1037.1L621 1042.7L624.2 1045.4L626.9 1042.7L624.2 1037.1M1638 1166.4L1622.6 1180.8L1607.3 1180.8L1607.3 1180.8L1607.3 1180.8L1622.6 1196.1L1607.3 1208.1L1606.5 1211.5L1605.4 1226.8L1603.7 1242.2L1606.3 1257.5L1604.4 1272.9L1604.3 1288.2L1607.3 1297.8L1610.5 1303.6L1621.2 1319L1622.6 1323.2L1627.3 1334.3L1629.2 1349.6L1629.3 1365M1029.4 1365L1023.6 1361.4L1008.2 1353L1004.1 1349.6L992.9 1334.3L992.9 1334.2L992.7 1334.3L977.5 1338.3L962.2 1344.8L948.6 1349.6L946.8 1350L931.4 1350.8L928.8 1349.6L916.1 1338.5L900.7 1334.6L885.4 1342.2L870 1344.5L854.6 1342.5L839.3 1345.5L833.9 1349.7L823.9 1358.8L820.6 1365M102 159.1L117.4 161.8L132.7 163.7L137.6 167.7L143 183.1L148.1 190.7L151.8 198.4L148.1 206.1L144.1 213.8L144 229.1L141.7 244.4L136.7 259.8L132.7 266.9L126 275.1L121.2 290.5L117.4 296.8L102 301.1M102 567.7L114.1 582.1L117.4 588L121.5 597.5L124.7 612.8L126.1 628.2L125.4 643.5L126.5 658.9L127.5 674.2L123.5 689.6L132.7 704.9L132.7 704.9L148.1 720.3L148.1 720.3L158.2 735.7L163.4 740.5L172.7 751L178.8 756.6L189.2 766.4L194.2 776.4L199.8 781.7L207.3 797L209.5 802.3L224.9 811.1L232.7 812.4L240.2 814L255.6 826.3L256.5 827.8L271 832.4L286.3 829.8L298.1 827.8L301.7 826.2L317 814.3L318.5 812.4L332.4 802.5L347.8 798L352 797L363.1 791.4L377 781.7L378.5 780.3L385.4 766.4L387.2 751L393.8 739.7L395.3 735.7L404.3 720.3L409.2 716.8L424.6 715.7L439.9 715.4L455.3 715.3L470.6 716.2L482.5 720.3L486 722.8L491.1 735.6L486 744.5L481.6 751L471.9 766.4L470.6 768.8L463.8 781.7L459.5 797L455.9 812.4L456.1 827.8L455.3 830.2L451.7 843.1L447.6 858.5L448.1 873.8L455.3 880L470.6 881.5L486 880.6L501.4 878.6L516.7 877.8L532.1 877L547.4 877.8L562.8 879.1L578.2 885.6L581.8 889.1L593.5 897.4L608.7 904.5L608.9 905.2L617.1 919.8L617.8 935.2L611.1 950.5L610.3 965.9L608.9 972.6L608.4 981.2L605.1 996.6L603.5 1011.9L601.3 1027.3L607 1042.7L608.9 1044.3L623.4 1058L624.2 1059L638.5 1073.3L639.6 1074.3L655 1074.2L661.6 1073.3L670.3 1064.4L675.7 1058L670.3 1052.1L662.2 1042.7L655 1029.7L652.1 1027.3L639.6 1015.1L638.3 1011.9L639.3 996.6L639.6 996.3L649.8 996.6L655 998.4L655.3 996.6L662.6 981.2L670.2 965.9L670.3 965.7L679.2 950.5L685.7 943.4L694.7 935.2L701 930.3L714.8 919.9L716.4 918.7L731.8 904.7L732.2 904.5L747.1 890.5L747.8 889.1L762.5 875.3L764.3 873.8L777.8 866.8L793.2 862.6L808.6 859.2L811.1 858.4L823.9 849.5L839.3 843.6L854.6 843.4L855.4 843.1L870 831.1L881.3 827.8L884.6 812.4L885.4 809.9L893 797L888.3 781.7L891.6 766.4L900.7 761L916.1 755.6L931.4 752.9L946.8 751.5L949 751L962.2 744.3L977.5 739.5L992.9 737.3L1008.2 745.4L1014 751L1022.3 766.4L1023.6 772L1026.9 781.7L1023.6 793.6L1022.8 797L1008.2 810.4L997.1 812.4L992.9 823.2L977.5 827.1L962.2 813.9L959.2 812.4L946.8 809.8L931.4 808.8L916.1 809.4L900.7 812.4L900.7 812.4L900.7 812.4L907 827.8L916.1 830.6L931.4 836.2L942.9 843.1L946.8 846.9L962.2 850.1L977.5 853.8L992.9 848.1L1008.2 844.2L1023.6 858.4L1023.6 858.4L1028 873.8L1039 875L1054.3 875L1069.4 889.1L1069.7 889.3L1085 896.5L1100.4 903.2L1103.9 904.5L1115.8 907.4L1131.1 916.9L1146.5 919.6L1147.9 919.9L1161.7 935.2L1161.6 950.5L1161.8 950.7L1177.2 952.7L1192.6 963.1L1195.7 965.9L1207.9 973.3L1215 981.2L1223.3 987.1L1231.2 996.6L1238.6 1002.9L1248.2 1011.9L1254 1017.2L1267.6 1027.3L1269.4 1028.2L1284.7 1037.1L1297.1 1042.7L1294.5 1058L1291.1 1073.3L1295.7 1088.7L1294.8 1104L1289.1 1119.4L1295.7 1134.8L1300.1 1139.2L1309.9 1150.1L1315.4 1159.7L1318.6 1165.5L1329.6 1180.8L1330.8 1182.7L1345.4 1196.1L1346.2 1197.2L1359.4 1211.5L1361.5 1218.8L1376.9 1213.3L1392.2 1211.8L1400.8 1211.5L1392.2 1202.5L1379.1 1196.1L1376.9 1196L1361.5 1180.8L1361.5 1165.5L1376.9 1163.5L1392.2 1160.1L1404.8 1165.5L1407.6 1180.8L1407.6 1196.1L1407.6 1196.1L1423 1196.7L1424.5 1196.1L1438.3 1181.1L1453.7 1181.5L1469 1181.8L1484.4 1181.9L1499.8 1184.3L1515 1196.1L1515.1 1196.3L1529.6 1211.5L1530.5 1213L1538 1226.8L1541.2 1242.2L1543.5 1257.5L1543.8 1272.9L1545 1288.2L1545.3 1303.6L1543.9 1319L1543.1 1334.3L1545.8 1348.9L1546.2 1349.6L1545.8 1350.9L1541.2 1365M786.2 720.3L793.2 717.7L797.9 720.3L808.6 726.9L823.9 727.5L839.3 735.2L840.1 735.6L840.5 751L839.3 751.5L823.9 758.7L808.6 757L793.2 752.3L792.5 751L792.4 735.6L786.2 720.3M1121.9 797L1131.1 786.6L1137.9 797L1131.1 803.9L1121.9 797M791.3 812.4L793.2 810.5L808.6 808.2L823.9 811.9L826.9 812.4L823.9 819.7L808.6 823.3L793.2 818.2L791.3 812.4M1360.8 1150.1L1361.5 1150L1361.8 1150.1L1361.5 1165.5L1360.8 1150.1M209.5 1241.9L204.5 1242.2L194.2 1247L178.8 1254.2L163.4 1256.9L162.7 1257.5L155.5 1272.9L151 1288.2L163.4 1301.9L178.8 1302.8L194.2 1302.3L207.9 1288.2L208.7 1272.9L209.5 1269.7L215 1257.5L210.1 1242.2L209.5 1241.9M194.2 1305L179.8 1319L178.8 1320.9L169.3 1334.3L178.8 1347.7L181.6 1349.6L194.2 1354.8L209.5 1355.2L216.3 1349.6L224.9 1337L225.7 1334.3L224.9 1332.5L216.7 1319L209.5 1307.7L194.2 1305M347.8 1305.6L335.9 1319L332.6 1334.3L332.4 1338.6L317 1349.1L316.7 1349.6L317 1352.2L332.4 1350.5L333.2 1349.6L347.8 1343.6L354.8 1334.3L363.1 1328.2L378.5 1320.6L379 1318.9L378.5 1318.8L363.1 1303.7L347.8 1305.6M701.9 1365L712.6 1349.6L716.4 1342.1L716.8 1334.3L716.4 1333.3L702.2 1319L701 1318.2L685.7 1318.4L670.3 1318.6L658.6 1319L655 1319.9L639.6 1326.6L624.2 1334.3L608.9 1334.3L593.5 1334.3L578.2 1334.3L562.8 1334.3L547.4 1334.3L532.1 1334.3L529.3 1319L516.7 1318.5L514.7 1319L501.4 1334.3L501.4 1334.3L486 1349.6L470.6 1349.6L455.3 1334.3L455.3 1334.3L439.9 1334.3L439.9 1334.3L439.9 1349.6L439.9 1365M1072.4 1365L1069.7 1361L1059.8 1349.6L1054.3 1346.5L1039 1340.1L1027.1 1334.3L1023.6 1332.8L1008.2 1322.3L1005 1319L994.5 1303.6L992.9 1298.3L984.8 1288.2L977.5 1282.8L967.8 1288.2L976.7 1303.6L962.2 1317.1L959.3 1319L947.3 1334.3L946.8 1334.6L945.3 1334.3L931.4 1329.4L921.8 1319L916.1 1317.3L900.7 1318.4L899 1319L885.4 1328L872.6 1334.3L870 1335L867.3 1334.3L854.6 1330.9L839.3 1334.3L839.3 1334.3L823.9 1347.7L822.2 1349.7L813.4 1365M102 163.6L117.4 166.2L132.7 167.7L132.7 167.7L137.9 183.1L148.1 198.4L140.2 213.8L139.9 229.1L136.5 244.4L132.7 259.8L132.7 259.8L120.3 275.1L117.4 290.5L117.4 290.5L102 296.4M102 574.6L108.3 582.1L116.9 597.5L117.4 599.2L120.4 612.8L121.6 628.2L120.7 643.5L122 658.9L123 674.2L120.9 689.6L128.7 704.9L132.7 709.7L143.3 720.3L148.1 725.1L155 735.6L163.4 743.5L170.1 751L178.8 759L186.6 766.4L194.2 781.7L194.2 781.7L203.2 797L209.5 811.8L210.4 812.4L224.9 820L235.7 827.8L240.2 829.9L255.6 834.1L271 838.2L286.3 836.6L301.7 834.1L312.3 827.8L317 823.9L325.7 812.4L332.4 807.6L347.8 802.4L363.1 799.4L370.8 797L378.5 791.9L386.5 781.7L392.4 766.4L392.4 751L393.8 748.6L398.5 735.6L409.2 721.6L424.6 720.4L428.6 720.3L439.9 720.1L455.3 720L458.8 720.3L470.6 721.2L486 733.8L486.7 735.6L486 736.9L476.5 751L470.6 759.7L461.4 766.4L455.3 778.5L453.9 781.7L450.2 797L446.8 812.4L448.2 827.8L443.3 843.1L439.9 854.9L438.5 858.4L439.9 865L441.1 873.8L455.3 886.1L470.6 886.9L486 884.6L501.4 882.5L516.7 881.5L532.1 880.5L547.4 881.5L562.8 883.8L572.8 889.1L578.2 892.7L593.5 903.9L594.9 904.5L603.6 919.9L608.9 929.3L611.6 935.2L608.9 940.8L605.4 950.6L605.7 965.9L603.6 981.2L600.8 996.6L598.1 1011.9L595 1027.3L600.9 1042.7L608.9 1049.4L618 1058L624.2 1065L632.5 1073.3L639.6 1079.6L655 1082.2L670.3 1082.8L685.7 1086.1L701 1077.4L709.1 1073.3L709.4 1058L704 1042.7L705.6 1027.3L709.5 1011.9L712.3 996.6L713 981.2L715.1 965.9L716.4 964L727.7 950.5L731.8 947.4L747.1 937.2L751.7 935.2L762.5 930.6L777.7 919.9L777.8 919.7L793.2 906.8L796.9 904.5L808.6 900.2L823.9 895.2L835.9 889.1L839.3 888.4L854.6 887.8L865.2 889.2L869.5 904.5L870 904.7L871.1 904.5L885.4 892.6L900.7 889.5L901.2 889.1L916.1 879.1L931.4 877.3L946.8 875.7L962.2 882.9L975.8 889.1L977.5 890.2L992.9 903.4L995 904.5L1008.2 908.1L1023.6 908.7L1039 906.3L1054.3 913.7L1063.6 919.8L1069.7 924.2L1085 933.1L1089.6 935.2L1100.4 940.9L1115.8 949.6L1117 950.5L1131.1 957.7L1143.8 965.9L1146.5 967.4L1161.8 975L1174.1 981.3L1177.2 982.4L1192.6 987.4L1207.9 995L1209.9 996.6L1223.3 1004.3L1231.8 1012L1238.6 1019.2L1247.3 1027.3L1254 1034.9L1269.4 1041.3L1271.8 1042.7L1278.1 1058L1275.5 1073.3L1284.5 1088.7L1282.8 1104L1273 1119.4L1280.5 1134.8L1284.7 1139.2L1295.4 1150.1L1300.1 1154.1L1309.4 1165.5L1315.4 1172.5L1322.3 1180.8L1330.8 1193.6L1333.6 1196.1L1345.5 1211.5L1346.2 1212L1356.6 1226.8L1361.5 1230.8L1376.9 1230.6L1391.7 1226.8L1392.2 1226.7L1397.9 1226.8L1407.6 1227.1L1423 1227.1L1423.6 1226.8L1438.1 1211.5L1438.3 1211.4L1453.7 1207.8L1469 1208.9L1482.1 1211.5L1484.4 1212L1499.8 1223.8L1502.4 1226.8L1514.8 1242.2L1515.1 1243.3L1520.5 1257.5L1524 1272.9L1528.5 1288.2L1530.5 1299.3L1531.1 1303.6L1530.5 1308.1L1529.1 1319L1524.9 1334.3L1515.1 1345.2L1499.8 1347L1484.4 1348.8L1482.2 1349.7L1484.4 1364.5L1484.5 1365M971.1 751L977.5 748.1L992.9 748L997.4 751L1008.2 761.9L1011.3 766.4L1015.2 781.7L1009.1 797L1008.2 797.8L992.9 807.5L988.7 812.4L977.5 822.9L966.2 812.4L962.2 808.5L946.8 803.2L931.4 797.4L930.7 797L916.1 784.2L914.1 781.7L916.1 778.5L922.4 766.4L931.4 761.4L946.8 756.8L962.2 753.6L971.1 751M102 1068.1L104.5 1073.3L117.4 1079.2L132.7 1077.3L148.1 1084.1L163.4 1084.3L178.8 1078.7L194.2 1074.7L203.2 1073.3L209.5 1061.9L210.2 1058L209.5 1057.4L195.5 1042.7L194.2 1036.2L178.8 1033.4L163.4 1030.5L148.1 1029L132.7 1038.5L117.4 1042.1L113.5 1042.7L102 1055.5M723.5 1365L730.3 1349.6L731.8 1343.3L736.4 1334.3L731.8 1321.4L731.2 1319L724.6 1303.6L716.4 1291.8L703.6 1288.2L701 1286.5L695.9 1288.2L685.7 1288.9L682.3 1288.2L670.3 1276.9L655 1272.9L655 1272.9L639.6 1264.5L624.2 1257.5L624.2 1257.5L608.9 1242.2L608.9 1242.2L608.9 1242.2L593.5 1257.5L578.2 1257.5L578.2 1257.5L562.8 1257.6L555.1 1257.5L547.4 1257.5L532.1 1252.8L516.7 1254L501.4 1257.5L486 1242.2L486 1242.2L470.6 1226.8L470.6 1226.8L455.3 1226.8L439.9 1226.8L424.6 1226.8L409.2 1211.6L393.8 1211.5L393.8 1211.5L378.5 1211.3L363.1 1211.5L347.8 1208.3L332.4 1196.1L332.4 1196.1L317.6 1180.8L317 1178.6L301.7 1178.4L286.3 1171.5L276.9 1165.5L271 1163.3L255.6 1156.8L240.2 1154.4L224.9 1154.2L209.5 1152.7L202.5 1150.1L194.2 1147.5L178.8 1144L163.4 1136.9L152.2 1134.8L148.1 1132.3L132.7 1119.4L132.7 1104L132.7 1104L117.4 1104L102 1088.7L102 1088.7M1101 1365L1100.4 1363.8L1092.7 1349.6L1085 1340.6L1076.7 1334.3L1069.7 1331.1L1054.3 1326.6L1039 1319.9L1037 1319L1023.6 1309.1L1019.1 1303.6L1010.4 1288.2L1008.2 1285L1000 1272.9L992.9 1268.3L977.5 1262.6L968.5 1272.9L962.2 1278.7L954.5 1288.2L951.3 1303.6L946.8 1306.9L931.4 1308.7L916.1 1308.7L900.7 1310.3L885.4 1314L870 1315.6L861.8 1319L854.6 1321.2L839.3 1328.1L832.1 1334.3L823.9 1341.4L816.5 1349.6L808.6 1362.1L806.1 1365M102 168.3L117.4 171.4L132.7 183L132.8 183.1L140 198.4L136.3 213.8L135.8 229.1L132.7 240.4L131 244.4L123.9 259.8L117.4 269L114.3 275.1L105 290.5L102 291.6M102 581.5L102.6 582.1L111.5 597.5L115.7 612.8L117.2 628.2L115.8 643.5L117.4 656.2L117.6 658.9L118.5 674.2L118.3 689.6L124.6 704.9L132.7 714.5L138.5 720.3L148.1 729.9L151.9 735.6L163.4 746.5L167.5 751L178.8 761.5L184 766.4L190.1 781.7L194.2 788.5L199.2 797L205.2 812.4L209.5 817.1L224.5 827.8L224.9 828L240.2 835.4L255.6 840.8L265.8 843.1L271 844L286.3 843.3L287.9 843.1L301.7 841.1L317 830.8L320.1 827.8L332.4 812.9L333.3 812.4L347.8 806.9L363.1 804.6L378.5 800.9L388.2 797L393.8 787L396.1 781.7L401.3 766.3L401.3 751L401.7 735.6L409.2 725.8L424.6 724.7L439.9 724.5L455.3 724.5L470.6 725.3L482.2 735.6L471.4 751L470.6 752.1L455.3 761.2L449.4 766.3L444.7 781.7L441.3 797L439.9 803.1L432.6 812.4L439.9 823.8L440.5 827.8L439.9 829.6L429.1 843.1L427.2 858.4L428.1 873.8L439.9 885L445.7 889.1L455.3 893.5L470.6 893.1L483.2 889.2L486 888.6L501.4 886.3L516.7 885.2L532.1 884L547.4 885.3L562.8 888.5L564 889.1L578.2 898.5L586.3 904.5L593.5 915.5L596.2 919.9L605.1 935.2L600.9 950.5L602.2 965.9L598.8 981.2L596.6 996.6L593.5 1009.5L592.7 1011.9L589.5 1027.3L593.5 1039.2L594.9 1042.7L608.9 1054.5L612.6 1058L624.2 1071L626.5 1073.3L639.6 1085L651.9 1088.7L655 1089.7L670.3 1091.1L685.7 1092.4L696.6 1088.7L701 1085.9L716.4 1078.1L726.8 1073.3L731.8 1066.9L747.1 1058.4L747.7 1058L747.4 1042.7L747.7 1027.3L752.4 1012L762.5 997.1L763 996.6L777.8 984.7L782.6 981.2L793.2 974.6L806.2 965.9L808.6 964.3L823.9 958.9L839.3 954.4L854.6 951.9L863.6 950.5L870 949.8L885.4 947.5L900.7 944.8L916.1 940.9L931.4 937.7L946 935.2L946.8 935L947.5 935.2L962.2 937.4L977.5 939.7L992.9 941L1008.2 940.7L1023.6 941.8L1034.1 950.5L1039 951.2L1054.3 951.7L1068.5 965.9L1069.7 968.3L1085 976.3L1099.7 981.2L1100.4 981.4L1102.9 981.2L1115.8 980.3L1120.8 981.2L1131.1 983.6L1146.5 991.7L1161.8 995.2L1168 996.6L1177.2 999.9L1192.6 1004.5L1207.9 1008.7L1214.2 1011.9L1223.3 1018.9L1231 1027.3L1238.6 1035.7L1244.7 1042.7L1250 1058L1254 1070.6L1255.2 1073.3L1254 1088.1L1254 1088.7L1251.9 1104L1254 1106.3L1262.4 1119.4L1269.4 1133.7L1269.9 1134.8L1284.5 1150.1L1284.7 1150.3L1300.1 1163.4L1301.8 1165.5L1314.9 1180.8L1315.4 1181.6L1323 1196.1L1330.8 1207.5L1333.9 1211.5L1346.2 1220.4L1350.7 1226.8L1361.5 1235.7L1376.9 1242.1L1382.2 1242.2L1392.2 1242.3L1392.7 1242.2L1407.6 1237.4L1423 1237.2L1438.3 1233.7L1453.7 1235.6L1469 1241.8L1484.4 1241.3L1484.9 1242.2L1489 1257.5L1499.8 1269.5L1501.3 1272.9L1506.4 1288.2L1507.5 1303.6L1515.1 1313.9L1516.1 1319L1515.1 1333.8L1499.8 1322.4L1484.4 1325L1469 1328.5L1453.7 1332.5L1438.3 1333.9L1437.4 1334.3L1437.9 1349.6L1438.3 1350.5L1453.7 1362.7L1454.5 1365M936.6 766.4L946.8 762.1L962.2 759.1L977.5 755.9L992.9 757.4L1001.8 766.4L1004.8 781.7L1000.8 797L992.9 802.3L984.2 812.4L977.5 818.7L970.7 812.4L962.2 804.1L947.4 797L946.8 796.2L931.4 785.5L927.4 781.7L931.4 774.9L936.6 766.4M737.9 1365L743.9 1349.6L747.1 1345.6L754.2 1334.3L762.5 1319L762.5 1319L763 1303.6L765.4 1288.2L762.5 1281.6L757.4 1272.9L751.1 1257.5L747.1 1247L744.4 1242.2L747.1 1232.7L749.2 1226.8L747.6 1211.5L747.1 1209.7L731.8 1204.5L716.4 1208.3L703.8 1211.5L701 1213L685.7 1221.5L670.3 1212L669.8 1211.5L655 1208.4L639.6 1196.1L639.6 1196.1L624.6 1180.8L624.2 1180.5L608.9 1176.7L593.5 1166.5L578.2 1165.5L578.2 1165.5L562.8 1165.5L562.8 1165.5L547.4 1165.5L532.1 1165.5L532.1 1165.5L532.1 1165.5L516.7 1169.3L501.4 1166.9L486 1165.5L486 1165.5L486 1165.5L470.6 1165.6L470.3 1165.5L470.6 1160.6L471.1 1150.1L470.6 1150L461.5 1150.1L455.3 1150.7L439.9 1156.1L424.6 1157.5L409.2 1155.9L396.4 1150.1L393.8 1148.7L379.9 1134.8L378.5 1132.5L363.1 1119.4L363.1 1104L363.1 1088.7L378.5 1077.2L379.6 1073.3L393.8 1058.1L393.9 1058L393.8 1057.9L379.8 1042.7L378.5 1042.2L363.1 1042.4L362.6 1042.7L347.8 1058L332.4 1058L317.5 1042.7L317 1042.3L303 1027.3L302.6 1011.9L301.7 1011.2L286.3 1011.5L282.3 1011.9L271 1016.3L255.6 1016L242.7 1011.9L240.2 1011.4L224.9 1005.8L216.2 996.6L209.5 990.9L194.2 983.5L182.8 981.2L178.8 980.6L163.4 976.6L148.1 971.7L133.4 965.9L132.7 965.8L117.4 964.1L102 961.5M1124.9 1365L1115.8 1349.7L1115.8 1349.6L1106.2 1334.3L1100.4 1330.5L1085.1 1319L1085 1318.9L1069.7 1313.2L1054.3 1305.8L1051 1303.6L1039 1290.4L1037.2 1288.2L1028.9 1272.9L1023.6 1264.4L1015.3 1257.6L1008.2 1255.9L992.9 1252.8L977.5 1250.5L962.2 1257.4L962.1 1257.5L958.4 1272.9L946.8 1287.6L942.5 1288.2L931.4 1291.2L916.1 1295.3L900.7 1299.6L885.4 1302.5L870 1303L869.4 1303.6L854.6 1313.5L845 1319L839.3 1321.8L824.9 1334.3L823.9 1335.2L810.8 1349.6L808.6 1353.1L798.5 1365M102 175L117.4 176.8L125.6 183.1L131.8 198.4L131.8 213.8L130.5 229.1L124.4 244.4L117.4 256.8L114.8 259.8L108.2 275.1L102 283.9M102 590.5L106.1 597.5L110.3 612.8L111.3 628.2L110.3 643.5L111.7 658.9L112.5 674.2L112.9 689.6L117.4 696.6L120.5 704.9L132.7 719.2L133.8 720.3L148.1 734.7L148.7 735.6L163.4 749.4L164.8 751L178.8 763.9L181.4 766.4L186 781.7L194.2 795.4L195.1 797L200.5 812.4L209.5 822.2L217.4 827.8L224.9 834L240.2 840.9L246.1 843.1L255.6 847.4L271 849.6L286.3 849.2L301.7 847.7L306.8 843.1L317 835.8L325.3 827.8L332.4 819.1L344.9 812.4L347.8 811.3L363.1 809.8L378.5 808L388.4 812.4L392 827.8L393.8 829.8L408.4 843.1L409.2 845.9L413.9 858.4L409.2 864.6L402.4 873.8L409.2 880.8L422.1 889.1L424.6 890.2L439.9 902.8L455.3 902.3L470.6 899.9L486 895.9L501.4 891.4L513.2 889.1L516.7 888.9L532.1 887.5L547.4 889L548 889.1L562.8 894.7L578.2 904.4L578.3 904.5L589 919.9L593.5 927.1L598.3 935.2L596.4 950.5L598.7 965.9L594.1 981.2L593.5 985.8L591.2 996.6L586.9 1011.9L584.2 1027.3L585.8 1042.7L593.5 1048.3L606 1058L608.9 1060.7L619.8 1073.3L624.2 1077.8L637 1088.7L639.6 1091.3L655 1095.2L670.3 1096.1L685.7 1096.9L701 1093.2L712.2 1088.7L716.4 1086.6L731.8 1078.4L747.1 1076.2L762.5 1075.2L777.8 1074L778.5 1073.3L777.8 1061.2L777.4 1058L770.4 1042.7L777.8 1032.7L781 1027.3L793.2 1015L798.1 1011.9L808.6 1003.2L823.9 997.7L825.9 996.6L839.3 986.6L854.6 982.9L864.4 981.2L870 978.9L885.4 972.1L900.7 969L916.1 967.1L922.7 965.9L931.4 962.4L946.8 958.6L962.2 956.5L977.5 958.2L992.9 959.3L1008.2 956.8L1023.6 957.1L1039 958.2L1054.3 963.9L1056.3 965.9L1054.3 979.4L1053.6 981.2L1050.1 996.6L1050.9 1011.9L1054.3 1013.3L1067.4 1027.3L1069.7 1029.7L1071.6 1027.3L1073.5 1012L1085 1002.9L1100.4 1000.1L1115.8 999.6L1131.1 1005.5L1139.9 1012L1146.5 1015L1161.8 1023.4L1172.6 1027.3L1177.2 1028L1192.6 1028.5L1207.9 1033.2L1223.3 1034.8L1230.7 1042.7L1235.1 1058L1229.1 1073.3L1223.3 1086.6L1222.7 1088.7L1223.3 1089.1L1238.6 1104L1238.7 1104L1253 1119.4L1253.6 1134.8L1254 1136.1L1269.4 1147.5L1271.8 1150.1L1284.7 1159.3L1291.9 1165.5L1300.1 1178.5L1301.9 1180.8L1313.2 1196.1L1315.4 1198.7L1325.3 1211.5L1330.8 1216.6L1344 1226.8L1346.2 1229L1361.5 1240.5L1365.6 1242.2L1376.9 1253.1L1392.2 1248.5L1407.6 1246.7L1423 1248.5L1438.3 1251.9L1450.2 1257.5L1453.7 1258.7L1469 1269.9L1471.1 1272.9L1469 1279.3L1462.6 1288.2L1454.4 1303.6L1453.7 1303.9L1438.3 1312.3L1423.8 1319L1423 1319.2L1421.8 1319L1407.6 1305.7L1404.9 1303.6L1398.7 1288.2L1407.6 1278.4L1408.8 1272.9L1407.6 1272.5L1392.2 1272.9L1392.2 1272.9L1376.9 1287.9L1376.6 1288.2L1361.5 1302.1L1360.3 1303.6L1358 1319L1346.2 1331.4L1331 1319L1330.8 1318.8L1330.7 1319L1317 1334.3L1315.4 1335.4L1308 1334.3L1300.1 1334L1284.8 1319L1286.5 1303.6L1284.7 1302.2L1280.9 1303.6L1284.5 1319L1283.9 1334.3L1284.7 1335.3L1298.1 1349.7L1284.7 1361.6L1269.4 1364.6L1268.4 1365M404.9 735.6L409.2 730L424.6 729L439.9 728.9L455.3 728.9L470.6 729.4L477.7 735.6L470.6 745.5L455.3 749.6L453.4 751L439.9 763L437.4 766.4L435.4 781.7L424.6 793L409.6 781.7L410.6 766.4L411 751L409.2 748.8L404.9 735.6M952.6 766.4L962.2 764.6L977.5 763.2L992.9 766.4L992.9 766.4L994.9 781.7L992.9 797L992.9 797.1L979.8 812.4L977.5 814.5L975.2 812.4L962.2 799.8L956.5 797L946.8 784.7L942.6 781.7L946.8 773L952.6 766.4M393.8 888.3L393.5 889.1L393.8 889.5L394.8 889.1L393.8 888.3M749.9 1365L753.8 1349.6L762.5 1337L764.3 1334.3L772.8 1319L777.8 1309.7L781.5 1303.6L793.2 1289.4L794 1288.2L800.4 1272.9L802.8 1257.5L799.7 1242.2L796.3 1226.8L795.4 1211.5L795.2 1196.1L795.2 1180.8L793.8 1165.5L793.2 1164L778.5 1150.1L777.8 1149L762.5 1145.1L747.1 1150.1L747.1 1150.1L731.8 1163.1L725.5 1165.5L716.4 1166.4L701 1180.7L685.7 1180.8L670.3 1180.4L668.7 1180.8L655 1181.5L653.5 1180.8L639.6 1168L635.7 1165.5L624.2 1151.8L621.9 1150.1L609.8 1134.8L608.9 1134L593.5 1130L578.2 1122.5L562.8 1119.4L562.8 1119.4L547.4 1117.1L532.1 1111.8L516.7 1111.4L501.4 1111.7L486.8 1104L486 1103.8L485.2 1104L471.4 1119.4L470.6 1119.7L455.3 1120.8L439.9 1121.1L424.6 1120.2L423 1119.4L424.6 1104L439.9 1104L439.9 1104L439.9 1104L424.6 1104L421.6 1088.7L419.8 1073.3L424.6 1058.3L424.6 1058L427.8 1042.7L426.9 1027.3L425.3 1012L424.6 1011.2L409.2 1009.6L393.8 1008.3L378.5 1011.9L363.1 1009.5L347.8 1011.2L332.4 997.5L331.5 996.6L317.2 981.3L317 981.2L301.7 978.9L286.3 977.4L271 974.9L255.6 966.1L254.7 965.9L240.2 963.8L224.9 958.5L209.5 957.8L194.2 955.9L178.8 952L171.1 950.5L163.4 948.7L148.1 943.8L132.7 936.5L130.7 935.2L123.3 919.8L117.4 912.8L108.2 904.5L102 902.6M1149.5 1365L1150.9 1349.6L1149.6 1334.3L1146.5 1331.2L1131.1 1325.1L1115.8 1328.9L1103.2 1319L1100.4 1316.9L1085 1309.7L1076 1303.6L1073 1288.2L1085 1273.6L1085.5 1272.9L1085 1272.3L1070.8 1257.5L1069.7 1256.6L1054.3 1251.7L1039 1245.4L1028.6 1242.2L1023.6 1241.5L1008.2 1240.9L992.9 1240.3L977.5 1239.9L966.2 1242.2L962.2 1243.6L954.9 1257.5L949.7 1272.9L946.8 1276.6L931.4 1275.6L924 1272.9L916.1 1271.2L900.7 1266.5L885.4 1269.7L883.4 1272.9L876.1 1288.2L870 1291.9L858.7 1303.6L854.6 1306.3L839.3 1315L832.2 1319L823.9 1325.4L815.4 1334.3L808.6 1342.4L803.2 1349.6L793.2 1361.9L789.6 1365M102 181.7L117.4 182.2L118.4 183.1L122.2 198.4L122.5 213.8L121.8 229.1L117.8 244.4L117.4 245.2L104.9 259.8L102.1 275.1L102 275.3M102 602.3L104.8 612.8L105.4 628.2L104.8 643.5L105.7 658.9L106.1 674.2L106.1 689.6L114.3 705L117.4 708.4L124.9 720.3L132.7 728.6L139.6 735.6L148.1 744L157.1 751L163.4 756.6L178.8 766.3L178.8 766.4L181.9 781.7L186.6 797L194.2 807.3L195.9 812.4L209.5 827.2L210.3 827.8L224.9 839.9L232.3 843.1L240.2 849.7L255.6 854L271 855.1L286.3 855L301.7 854.2L313.8 843.1L317 840.8L330.4 827.8L332.4 825.4L347.8 820L363.1 818.4L378.5 818.9L383.1 827.8L393.8 839.7L397.5 843.1L401.5 858.4L393.8 868.4L388.8 873.8L384.8 889.1L393.8 898.4L409.2 894.1L424.6 899.2L430.6 904.5L439.9 912.9L455.3 911.8L470.6 908.3L482 904.5L486 903.6L501.4 900.1L516.7 897.4L532.1 895L547.4 897.7L562.8 901.1L568.2 904.5L578.2 914.5L581.9 919.8L589.2 935.2L588.9 950.5L593.5 956.9L595.3 965.9L593.5 971.5L584.4 981.2L582.8 996.6L581.1 1011.9L578.9 1027.3L578.2 1033.3L574.4 1042.7L578.2 1046.8L593.5 1055.4L596.8 1058L608.9 1069L612.6 1073.3L624.2 1085.1L628.5 1088.7L639.6 1099.8L655 1100.8L670.3 1101.2L685.7 1101.5L701 1099.8L716.4 1096.5L725.5 1088.7L731.8 1085.2L747.1 1084.1L762.5 1083.6L777.8 1083L787.3 1073.3L786.6 1058L783.6 1042.7L791.9 1027.3L793.2 1026L808.6 1017.1L814.5 1012L823.9 1006.3L839.3 999.1L842.6 996.6L854.6 991.3L870 989.3L885.4 984.3L890.7 981.2L900.7 977.6L916.1 975.5L931.4 973.4L946.8 971.1L962.2 967.5L977.5 970.4L992.9 972.5L1008.2 977.8L1008.5 981.2L1023.6 989.9L1031.4 996.6L1031.8 1011.9L1039 1018.8L1054.3 1026.3L1055.2 1027.3L1069.4 1042.7L1069.7 1042.9L1070 1042.7L1081.9 1027.3L1085 1019.9L1091.7 1011.9L1100.4 1008.4L1115.8 1007.9L1122.8 1011.9L1131.1 1018.3L1146.5 1024.5L1150.6 1027.3L1161.8 1035L1177.2 1036.6L1192.6 1037.9L1203.9 1042.7L1207.9 1045.6L1223.3 1049.3L1227.3 1058L1223.3 1064.3L1215 1073.3L1208.1 1088.7L1223.3 1098.3L1229.2 1104L1238.6 1114.1L1243.6 1119.4L1244 1134.8L1246.5 1150.1L1254 1157.2L1269.4 1158.9L1279.4 1165.5L1284.7 1170.6L1291.2 1180.8L1300.1 1190.6L1304.4 1196.1L1315.4 1208.5L1317.8 1211.5L1330.8 1223.6L1335 1226.8L1346.2 1237.7L1353 1242.2L1361.5 1250.1L1369.3 1257.5L1376.9 1271.5L1377.7 1272.9L1376.9 1273.7L1364 1288.2L1361.5 1290.6L1351.3 1303.6L1346.5 1319L1346.2 1319.3L1345.7 1319L1330.8 1309.4L1321 1319L1315.4 1324.7L1300.1 1324.4L1294.6 1319L1298.5 1303.6L1284.7 1292.9L1269.4 1297.1L1263.1 1303.6L1264.1 1319L1269.4 1325.9L1274.4 1334.3L1284.7 1347.3L1286.9 1349.6L1284.7 1351.6L1269.4 1355.1L1254 1360.2L1238.6 1363.5L1224.1 1365M408.1 735.6L409.2 734.2L424.6 733.3L439.9 733.3L455.3 733.4L470.6 733.4L473.1 735.6L470.6 739.2L455.3 740.4L440.9 751L439.9 751.9L429.2 766.4L426 781.7L424.6 783.1L422.6 781.7L419.5 766.3L419.4 751L409.2 739L408.1 735.6M972.9 797L977.5 787.3L979.7 797L977.5 800.9L972.9 797M1013.8 965.9L1023.6 965.1L1039 965.3L1040.4 965.9L1039 968.1L1023.6 967.4L1013.8 965.9M1385.6 1257.5L1392.2 1254.7L1407.6 1255.3L1415.2 1257.5L1407.6 1260.7L1392.2 1262.3L1385.6 1257.5M758.4 1365L762.5 1349.8L762.6 1349.6L772.9 1334.3L777.8 1326.1L784.5 1318.9L792.9 1303.6L793.2 1303.2L803.5 1288.2L808.6 1281.1L815 1272.9L815.7 1257.5L813.3 1242.2L808.6 1233.7L805.5 1226.8L803.6 1211.5L803.7 1196.1L804.1 1180.8L802.8 1165.5L799.7 1150.1L795.5 1134.8L793.2 1131.6L782.3 1119.4L777.8 1115.6L762.5 1116.6L747.1 1116.7L736.5 1119.4L731.8 1121.2L716.4 1133.7L715.2 1134.8L701 1145.4L685.7 1146.2L670.3 1139.6L664 1134.8L655 1129.1L639.6 1120.5L637.6 1119.4L624.2 1111.6L614.2 1104L608.9 1098.9L593.5 1089L590.6 1088.7L578.2 1086.1L573 1088.7L562.8 1091L547.4 1091.7L532.1 1090L521.5 1088.7L516.7 1080.2L509.1 1073.3L501.4 1071.9L486 1066.3L470.6 1061.5L466.7 1058L455.3 1045.9L454.1 1042.7L452.1 1027.3L449.5 1012L440.7 996.6L439.9 995.9L424.6 987.2L409.2 985.5L393.8 984L378.5 983.9L363.1 982.4L360.2 981.2L347.8 970.5L341.7 965.9L332.4 959.7L317 952.1L304.3 950.5L301.7 950.1L286.3 947.9L271 939.2L262.9 935.2L255.6 929.8L243.3 919.9L240.2 915.9L224.9 906.4L209.5 909.6L194.2 913.1L178.8 917.6L163.4 906.1L161.6 904.5L148.1 892.7L141.4 889.1L132.7 884.4L117.4 877.1L105.6 873.8L102 870.9M1158.8 1365L1161.1 1349.6L1161 1334.3L1146.5 1319.9L1144.7 1318.9L1131.1 1312.3L1117.7 1319L1115.8 1319.8L1114.7 1319L1100.4 1308.2L1090.9 1303.6L1085 1292.1L1083.8 1288.2L1085 1286.8L1094.4 1272.9L1085 1261.8L1081 1257.5L1069.7 1247.8L1058.6 1242.2L1054.3 1238.8L1039 1234.6L1023.6 1233.3L1008.2 1232.9L992.9 1232.4L977.5 1232.1L962.2 1234.1L953.3 1242.2L947.7 1257.5L946.8 1260L931.4 1264.8L916.1 1262.5L907.2 1257.5L900.7 1252.5L885.4 1255L882.6 1257.5L874.3 1272.9L870 1279.2L862.8 1288.2L854.6 1296.7L846.7 1303.6L839.3 1307.8L823.9 1313.6L818.5 1319L808.6 1329.5L803.8 1334.3L794.4 1349.6L793.2 1351.1L777.8 1363.8L776.1 1365"/></g><path class="co" d="M189.6 568.3L186.5 554.5L181.9 536.1L183.4 520.8L191.1 508.5L200.3 499.3L212.6 493.1L228 485.4L246.4 476.2L261.7 465.5L264.8 457.8L283.2 454.7L292.5 453.2L310.9 450.8L329.3 456.3L341.6 457.8L353.9 459.3L366.2 465.5L375.4 468.6L387.7 473.2L403.1 471.6L412.3 465.5L421.5 467L427.6 476.2L435.3 473.2L430.7 464L421.5 454.7L426.1 445.5L418.4 440.9L427.6 437.9L443 431.7L458.4 432.6L470.6 436.3L486 434.8L495.2 433.3L516.7 431.7L532.1 434.8L544.4 440.9L552 453.2L562.8 454.7L578.2 445.5L587.4 440.9L599.7 445.5L612 457.8L621.2 470.1L631.9 477.8L635 493.1L630.4 506.9L636.5 516.1L641.1 526.9L648.8 539.2L656.5 551.5L661.1 563.7L670.3 571.4L679.5 582.1L682.6 592.9L693.4 592.9L702.6 589.8L707.2 582.1L711.8 572.9L714.9 557.6L714.9 542.2L710.3 526.9L704.1 511.5L698 496.2L699.5 488.5L691.8 477.8L684.1 462.4L676.5 447.1L673.4 431.7L671.9 419.4L674.9 404.1L681.1 391.8L688.8 381.1L696.4 373.4L707.2 367.2L719.5 361.1L731.8 351.9L741 345.8L747.1 335M189.6 568.3L178.8 588.3L172.7 612.8L171.1 637.4L169.6 665L169.6 680.4L177.3 695.7L184.9 714.2L189.6 729.5L203.4 746.4L212.6 763.3L221.8 777.1L229.5 786.3L246.4 790.9L261.7 797L272.5 807.8L289.4 801.7L310.9 798.6L329.3 792.4L347.8 792.4L363.1 789.4L370.8 783.2L386.2 771L392.3 754.1L395.4 735.6L398.4 720.3L415.3 711.1L439.9 708L461.4 703.4L479.9 703.4L498.3 703.4L507.5 712.6L506 726.4L492.1 740.3L487.5 757.1L484.5 772.5L478.3 790.9L475.2 804.7L467.6 798.6L463 801.7L466 818.5L463 837L459.9 855.4L449.1 872.3L443 876.9L455.3 878.4L467.6 883L482.9 878.4L501.4 880.6L519.8 879.9L535.2 875.3L556.7 876.9L575.1 878.4L587.4 881.5L599.7 892.2L613.5 898.4L619.6 906L615 922.9L610.4 941.3L607.3 959.8L605.8 978.2L602.7 996.6L599.7 1015L602.7 1028.8L610.4 1042.7L621.2 1058L633.5 1070.3L645.7 1081L655 1088.7L667.2 1093.3L682.6 1094.8L694.9 1087.2L710.3 1081L722.5 1074.9L734.8 1070.3L750.2 1074.9L768.6 1078L784 1088.7L797.8 1099.4L808.6 1110.2L814.7 1120.9L816.2 1104L827 1093.3L840.8 1079.5L850 1064.1L854.6 1047.3L863.9 1035L874.6 1025.8L891.5 1018.1L909.9 1018.7L928.4 1013.5L943.7 1004.3L957.6 995.1L972.9 982.8L986.7 987.4L988.3 996.6L980.6 1004.3L963.7 1013.5L969.8 1025.8L974.4 1035L983.7 1028.8L996 1021.2L1014.4 1013.5L1017.5 1005.8L1015.9 995.1L1025.1 990.5L1029.7 999.7L1031.3 1010.4L1045.1 1011.9L1060.5 1015L1074.3 1022.7L1077.4 1033.4L1085 1042.7L1100.4 1041.1L1118.8 1039.6L1140.3 1039.6L1152.6 1051.9L1171.1 1054.9L1186.4 1053.4L1198.7 1045.7L1214.1 1038L1238.6 1036.5L1257.1 1036.5L1272.4 1036.5L1260.1 1041.1L1241.7 1042.7L1249.4 1051.9L1260.1 1059.5L1275.5 1064.1L1290.9 1070.3L1301.6 1079.5L1306.2 1093.3L1321.6 1102.5L1336.9 1110.2L1355.4 1117.9L1370.7 1131.7L1380 1147L1392.2 1156.2L1404.5 1168.5L1416.8 1179.3L1432.2 1182.3L1453.7 1185.4L1472.1 1182.3L1487.5 1183.9L1505.9 1185.4L1516.7 1188.5L1530.5 1194.6L1548.9 1202.3L1561.2 1213L1573.5 1220.7L1582.7 1228.4L1590.4 1236.1L1598.1 1245.3L1604.2 1260.6L1610.4 1279L1615 1297.5L1625.7 1308.2L1638 1312.8M102 844.6L117.4 852.3L135.8 858.4L154.2 866.1L172.7 873.8L191.1 876.9L209.5 883L224.9 881.5L240.2 873.8L252.5 867.7L267.9 867.7L283.2 872.3L298.6 883L314 893.8L329.3 909.1L341.6 919.9L357 932.1L372.3 938.3L390.8 938.3L409.2 945.9L427.6 953.6L446.1 959.8L461.4 961.3L475.2 959.8L479.9 953.6L489.1 956.7L482.9 969L495.2 979.7L507.5 990.5L519.8 1001.2L535.2 1016.6L541.3 1025.8L538.2 1042.7L539.8 1056.5L553.6 1064.1L562.8 1065.7L565.9 1054.9L572 1062.6L584.3 1073.3L599.7 1081L605.8 1093.3L602.7 1104L615 1107.1L624.2 1113.3L636.5 1110.2L648.8 1111.7L664.2 1116.3L673.4 1125.5L682.6 1133.2L688.8 1142.4L704.1 1140.9L710.3 1131.7L704.1 1119.4L710.3 1108.7L724.1 1097.9L731.8 1090.2L744 1090.2L756.3 1096.4L765.6 1107.1L771.7 1111.7L765.6 1119.4L771.7 1130.1L780.9 1142.4L788.6 1159.3L794.7 1174.7L796.3 1193.1L794.7 1211.5L799.3 1233L802.4 1245.3L793.2 1260.6L785.5 1282.1L768.6 1285.2L759.4 1297.5L753.3 1311.3L744 1323.6L728.7 1334.3L716.4 1338.9L713.3 1355.8L707.2 1365M564.3 694.2L578.2 688.1L584.3 672.7L596.6 666.6L615 660.4L633.5 657.4L655 653.4L673.4 654.3L691.8 655.8L707.2 660.4L722.5 665L737.9 675.8L756.3 678.9L771.7 683.5L784 692.7L802.4 698.8L817.8 709.6L833.1 715.7L845.4 717.2L851.6 728L870 731L885.4 740.3L896.1 744.9L891.5 749.5L873.1 754.1L851.6 754.1L830.1 752.5L808.6 755.6L787.1 755.6L793.2 744.9L804 735.6L799.3 729.5L777.8 729.5L762.5 717.2L753.3 703.4L731.8 698.8L716.4 697.3L701 688.1L679.5 685L661.1 683.5L651.9 677.3L664.2 674.2L645.7 669.6L627.3 675.8L612 683.5L593.5 689.6L581.2 695.7L564.3 694.2M638.1 701.9L622.7 704.9L621.2 694.2L633.5 691.1L638.1 701.9M766.5 804.7L777.8 798.6L796.3 797L811.6 800.1L828.5 807.2L833.1 815.5L820.8 816.4L810.1 817L802.4 821L785.5 816.4L774.8 806.9L766.5 804.7M886.9 801.7L888.4 792.4L909.9 795.5L931.4 798.6L943.7 798.6L951.4 792.4L939.1 781.7L939.1 769.4L925.3 761.7L919.2 757.1L934.5 753.1L952.9 758.7L969.8 758.7L986.7 755.6L1005.2 757.1L1020.5 761.7L1026.7 769.4L1045.1 772.5L1035.9 777.1L1051.2 781.7L1063.5 783.2L1074.3 792.4L1065.1 804.7L1051.2 800.1L1035.9 798.6L1023.6 800.1L1006.7 806.3L991.3 803.2L989.8 813.9L980.6 824.7L971.4 817L968.3 807.8L952.9 806.3L937.6 807.8L919.2 806.3L903.8 810.9L886.9 801.7M1108.1 812.4L1111.2 797L1131.1 797.7L1149.6 798.6L1158.8 803.2L1154.2 812.4L1137.3 813.9L1118.8 813.9L1108.1 812.4M1178.7 801.7L1186.4 802.3M1180.3 820.1L1189.5 820.1M1235.6 806.3L1238.6 810.9M1243.2 830.8L1249.4 835.4L1252.5 840M1272.4 838.5L1278.6 841.6L1274 843.1L1272.4 838.5M1275.5 864.6L1283.2 863.1L1293.9 866.1L1283.2 872.3L1278.6 875.3L1275.5 864.6M1285.3 886.1L1292.4 890.7L1290.9 898.4L1285.3 886.1M1293.9 909.1L1303.2 912.2L1304.7 921.4L1297 919.9L1293.9 909.1M1297.9 933.7L1303.2 935.2L1301.6 943.8L1297.9 933.7M1291.8 955.2L1296.4 959.8L1291.8 955.2M1341.6 956.7L1347.7 961.3L1343.1 964.4L1341.6 956.7M1276.1 990.5L1281 995.1L1276.1 996.6L1276.1 990.5M1272.4 1056.5L1284.7 1056.5L1300.1 1053.4L1301.6 1035L1284.7 1036.5L1280.1 1044.2L1284.7 1048.8L1272.4 1056.5M1304.7 1022.7L1315.4 1016.6M1195.6 1028.8L1207.9 1024.2L1214.1 1027.9L1204.8 1030.4L1195.6 1028.8M1049.7 985.9L1062 995.1M1022.1 978.2L1027.3 983.7M1072.8 987.4L1078.9 995.1M974.4 1035L963.7 1054.9L962.2 1070.3L971.4 1084.1L986.7 1087.2L992.9 1073.3L991.3 1058L983.7 1042.7L977.5 1035M745.6 337L760.8 325.9L777.5 323.1L780.3 316.2L781.7 321.7L795.6 306.4L796.9 299.5L798.3 303.7L817.8 298.1L823.3 302.3L833.1 292.6L826.1 291.9L819.2 298.8M806.7 286.3L812.2 291.2L819.2 289.8L823.3 280.1L820.6 274.5L815 278.7L808.1 274.5L813.6 275.9L821.9 277.3L828.9 280.1L837.2 278.7L845.6 270.3L846.9 264.8L842.8 262L838.6 267.6L837.2 262L835.8 253.7L830.3 255.1L824.7 257.8L817.8 260.6L817.1 252.3L819.2 257.8L828.9 255.1L835.8 250.9L842.8 255.1L845.6 252.3L842.8 242.6L841.4 237L840 231.4L831.7 231.4L826.1 230.1L820.6 225.9L823.3 221.7M840 287L845.6 284.9M849.7 283.5L855.3 281.4L856.7 274.5L855.3 267.6M853.9 264.8L849.7 257.8L845.6 246.7L841.4 234.2L840 231.4M801.1 218.9L809.4 220.3L817.8 223.1L826.1 227.3L828.9 225.9L821.9 220.3L816.4 214.8L823.3 216.2L830.3 220.3L831.7 214.8L823.3 206.4L813.6 198.1L805.3 192.6L812.2 193.9L819.2 198.1L826.1 203.7L830.3 212L830.3 203.7L826.1 192.6L819.2 180.1L817.8 182.8L821.9 189.8M799.7 185.6L801.1 178.7L806.7 174.5L808.1 170.3L802.5 177.3L799.7 184.2L806.7 185.6L812.2 188.4L817.8 189.8L823.3 196.7L823.3 193.9L820.6 180.1L823.3 171.7L823.3 162L828.9 156.4L837.2 150.9L842.8 150.9L837.2 156.4L834.4 164.8L831.7 170.3L835.8 177.3L838.6 187L844.2 191.2L845.6 198.1L849.7 200.9L845.6 207.8L841.4 214.8L840 223.1L842.8 223.1L848.3 214.8L853.9 205.1L860.8 195.3L866.4 187L869.2 182.8L866.4 174.5L862.2 167.6L858.1 160.6L853.9 152.3L852.5 148.1L856.7 142.6L865 139.1L869.2 137M901.1 137L898.3 145.3L890 152.3L884.4 157.8L877.5 166.2L871.9 169.6L870.6 163.4L863.6 159.2L858.1 155.1L853.9 150.9M858.1 200.9L866.4 189.8M747.3 545.5L754.8 551.5L780.6 545.5L760.9 543.2L759.4 545.5L747.3 545.5M780.6 537.9L791.2 540.2L801.8 547L807.1 554.5L804.8 563.6L801.8 570.5L797.3 565.9L802.6 560.6L802.6 551.5L795.8 543.9L780.6 537.9M772.3 591.7L777.6 593.9L783.6 603L786.7 612.1L780.6 618.2L773 615.2L765.5 609.1L771.5 606.1L772.3 591.7M780.6 621.2L789.7 619.7L793.5 628.8L791.2 636.4L785.2 635.6L780.6 621.2M792 596.2L800.3 596.2M817 581.1L826.1 587.1L833.6 592.4L835.9 600L833.6 607.6M848 607.6L853.3 615.2L859.4 623.5M885.2 625.8L885.9 630.3M838.9 638.6L848.8 645.5M860.9 639.4L865.5 650L874.5 662.9M892 664.4L901.8 668.2L904.8 674.2L892.7 684.1M927.6 676.5L938.2 680.3M951.8 696.2L962.4 693.9L973 697L962.4 697L951.8 696.2M929.1 704.5L932.1 705.3"/><path class="bo" d="M102 500.8L117.4 520.8L126.6 545.3L141.9 557.6L157.3 565.3L175.7 569.9L189.6 568.3M340.1 918.3L341.6 898.4L355.4 872.3L395.4 871.7L380 843.1L378.5 835.4L378.8 818.2L435.3 818.2L435.3 843.1L433.8 876.9L443 876.9M435.3 818.2L446.1 815.5L461.4 798.6M463 883L435.3 903L429.2 922.3L406.1 942.9M429.2 922.3L455.3 935.8L478.3 941.3L476.8 953.6M492.1 966.5L509 942.9L538.2 939.8L562.8 913.7L593.5 912.2L619.6 905.1M541.3 1024.8L572 1025.8L604.3 1029.8M625.8 1111.7L628.8 1091.8L636.5 1071.8M780.9 1144L797.8 1122.5L797.8 1099.4M983.7 1002.7L946.8 1024.2L931.4 1064.1L946.8 1107.1L962.2 1137.8L1020.5 1150.1L1042 1177.7L1100.4 1174.7L1091.2 1226.8L1106.5 1260.6L1089.6 1279L1109.6 1295.9L1118.8 1328.2M1118.8 1328.2L1161.8 1343.5L1207.9 1305.1L1226.4 1291.3L1207.9 1242.2L1246.3 1242.2L1300.1 1226.8L1309.3 1205.4L1287.8 1182.3L1297 1159.3L1321.6 1147L1309.3 1134.8L1330.8 1104M1309.3 1205.4L1330.8 1211.5L1346.2 1242.2L1336.9 1294.4L1364.6 1325.1L1392.2 1319L1423 1306.7L1438.3 1305.1M1416.8 1180.8L1413.7 1202.3L1395.3 1217.6L1390.7 1242.2L1423 1260.6L1438.3 1305.1M1438.3 1305.1L1456.8 1288.2L1496.7 1294.4L1515.1 1260.6L1501.3 1226.8L1501.3 1211.5L1516.7 1188.5M1496.7 1294.4L1521.3 1292.9L1548.9 1297.5L1564.3 1269.8L1587.3 1240.7M751.7 1322L777.8 1337.4L796.3 1352.7L830.1 1352.7L860.8 1365M1042 1331.2L1026.7 1365M1118.8 1328.2L1106.5 1312.8L1078.9 1311.3L1042 1331.2L1026.7 1312.8M969.8 760.2L972.9 778.6L969.8 794L962.2 794L969.8 810.9"/><text class="cl" transform="translate(1331 238) rotate(-17)" y="7" textLength="31.9" lengthAdjust="spacingAndGlyphs">-24</text><text class="cl" transform="translate(1518 237) rotate(-3)" y="7" textLength="31.9" lengthAdjust="spacingAndGlyphs">-22</text><text class="cl" transform="translate(1208 298) rotate(-14)" y="7" textLength="31.9" lengthAdjust="spacingAndGlyphs">-18</text><text class="cl" transform="translate(1086 397) rotate(-30)" y="7" textLength="31.9" lengthAdjust="spacingAndGlyphs">-12</text><text class="cl" transform="translate(1227 434) rotate(58)" y="7" textLength="19.5" lengthAdjust="spacingAndGlyphs">-8</text><text class="cl" transform="translate(612 261) rotate(-22)" y="7" textLength="31.9" lengthAdjust="spacingAndGlyphs">-22</text><text class="cl" transform="translate(628 414) rotate(55)" y="7" textLength="31.9" lengthAdjust="spacingAndGlyphs">-18</text><text class="cl" transform="translate(456 438) rotate(-6)" y="7" textLength="31.8" lengthAdjust="spacingAndGlyphs">-20</text><text class="cl" transform="translate(256 391) rotate(6)" y="7" textLength="31.8" lengthAdjust="spacingAndGlyphs">-10</text><text class="cl" transform="translate(762 470) rotate(0)" y="7" textLength="31.8" lengthAdjust="spacingAndGlyphs">-20</text><text class="cl" transform="translate(702 517) rotate(0)" y="7" textLength="31.9" lengthAdjust="spacingAndGlyphs">-16</text><text class="cl" transform="translate(919 489) rotate(-30)" y="7" textLength="31.9" lengthAdjust="spacingAndGlyphs">-14</text><text class="cl" transform="translate(466 581) rotate(0)" y="7" textLength="31.8" lengthAdjust="spacingAndGlyphs">-10</text><text class="cl" transform="translate(621 628) rotate(0)" y="7" textLength="19.5" lengthAdjust="spacingAndGlyphs">-6</text><text class="cl" transform="translate(824 624) rotate(0)" y="7" textLength="19.5" lengthAdjust="spacingAndGlyphs">-4</text><text class="cl" transform="translate(962 630) rotate(-10)" y="7" textLength="12.2" lengthAdjust="spacingAndGlyphs">0</text><text class="cl" transform="translate(640 688) rotate(70)" y="7" textLength="12.2" lengthAdjust="spacingAndGlyphs">0</text><text class="cl" transform="translate(1151 735) rotate(48)" y="7" textLength="12.4" lengthAdjust="spacingAndGlyphs">2</text><text class="cl" transform="translate(1456 898) rotate(18)" y="7" textLength="19.5" lengthAdjust="spacingAndGlyphs">-2</text><text class="cl" transform="translate(1350 1012) rotate(-75)" y="7" textLength="12.4" lengthAdjust="spacingAndGlyphs">4</text><text class="cl" transform="translate(1147 966) rotate(20)" y="7" textLength="24.6" lengthAdjust="spacingAndGlyphs">10</text><text class="cl" transform="translate(793 712) rotate(0)" y="7" textLength="12.4" lengthAdjust="spacingAndGlyphs">8</text><text class="cl" transform="translate(856 747) rotate(0)" y="7" textLength="12.4" lengthAdjust="spacingAndGlyphs">8</text><text class="cl" transform="translate(809 806) rotate(0)" y="7" textLength="12.4" lengthAdjust="spacingAndGlyphs">8</text><text class="cl" transform="translate(839 848) rotate(0)" y="7" textLength="12.4" lengthAdjust="spacingAndGlyphs">8</text><text class="cl" transform="translate(1132 783) rotate(0)" y="7" textLength="12.4" lengthAdjust="spacingAndGlyphs">8</text><text class="cl" transform="translate(425 789) rotate(-8)" y="7" textLength="24.8" lengthAdjust="spacingAndGlyphs">16</text><text class="cl" transform="translate(333 958) rotate(27)" y="7" textLength="24.8" lengthAdjust="spacingAndGlyphs">16</text><text class="cl" transform="translate(333 994) rotate(35)" y="7" textLength="24.8" lengthAdjust="spacingAndGlyphs">14</text><text class="cl" transform="translate(180 980) rotate(27)" y="7" textLength="24.8" lengthAdjust="spacingAndGlyphs">12</text><text class="cl" transform="translate(164 1035) rotate(8)" y="7" textLength="24.6" lengthAdjust="spacingAndGlyphs">10</text><text class="cl" transform="translate(288 1114) rotate(40)" y="7" textLength="24.6" lengthAdjust="spacingAndGlyphs">10</text><text class="cl" transform="translate(180 1137) rotate(20)" y="7" textLength="24.6" lengthAdjust="spacingAndGlyphs">10</text><text class="cl" transform="translate(546 1205) rotate(-4)" y="7" textLength="24.6" lengthAdjust="spacingAndGlyphs">10</text><text class="cl" transform="translate(194 1253) rotate(-55)" y="7" textLength="12.4" lengthAdjust="spacingAndGlyphs">8</text><text class="cl" transform="translate(241 1336) rotate(0)" y="7" textLength="12.4" lengthAdjust="spacingAndGlyphs">8</text><text class="cl" transform="translate(195 1344) rotate(-10)" y="7" textLength="12.4" lengthAdjust="spacingAndGlyphs">8</text><text class="cl" transform="translate(348 1337) rotate(-20)" y="7" textLength="12.4" lengthAdjust="spacingAndGlyphs">8</text><text class="cl" transform="translate(487 1339) rotate(-65)" y="7" textLength="12.4" lengthAdjust="spacingAndGlyphs">8</text><text class="cl" transform="translate(828 1202) rotate(62)" y="7" textLength="24.8" lengthAdjust="spacingAndGlyphs">16</text><text class="cl" transform="translate(955 1241) rotate(-80)" y="7" textLength="24.8" lengthAdjust="spacingAndGlyphs">16</text><text class="cl" transform="translate(932 1283) rotate(-5)" y="7" textLength="24.8" lengthAdjust="spacingAndGlyphs">14</text><text class="cl" transform="translate(872 1327) rotate(-15)" y="7" textLength="12.4" lengthAdjust="spacingAndGlyphs">8</text><text class="cl" transform="translate(896 1333) rotate(28)" y="7" textLength="12.4" lengthAdjust="spacingAndGlyphs">6</text><text class="cl" transform="translate(841 1347) rotate(0)" y="7" textLength="12.4" lengthAdjust="spacingAndGlyphs">4</text><text class="cl" transform="translate(980 1355) rotate(0)" y="7" textLength="12.4" lengthAdjust="spacingAndGlyphs">4</text><text class="cl" transform="translate(1118 1351) rotate(70)" y="7" textLength="24.8" lengthAdjust="spacingAndGlyphs">12</text><text class="cl" transform="translate(1252 1090) rotate(80)" y="7" textLength="24.8" lengthAdjust="spacingAndGlyphs">12</text><text class="cl" transform="translate(1288 1178) rotate(20)" y="7" textLength="24.8" lengthAdjust="spacingAndGlyphs">14</text><text class="cl" transform="translate(1317 1165) rotate(60)" y="7" textLength="12.4" lengthAdjust="spacingAndGlyphs">6</text><text class="cl" transform="translate(1394 1176) rotate(-60)" y="7" textLength="12.4" lengthAdjust="spacingAndGlyphs">8</text><text class="cl" transform="translate(1470 1276) rotate(0)" y="7" textLength="24.8" lengthAdjust="spacingAndGlyphs">14</text><text class="cl" transform="translate(1400 1336) rotate(50)" y="7" textLength="24.8" lengthAdjust="spacingAndGlyphs">14</text><text class="cl" transform="translate(1609 1144) rotate(0)" y="7" textLength="12.4" lengthAdjust="spacingAndGlyphs">6</text><text class="cl" transform="translate(1577 1221) rotate(-70)" y="7" textLength="12.4" lengthAdjust="spacingAndGlyphs">6</text><text class="cl" transform="translate(1622 1229) rotate(70)" y="7" textLength="12.4" lengthAdjust="spacingAndGlyphs">6</text><text class="cl" transform="translate(1608 1307) rotate(0)" y="7" textLength="12.4" lengthAdjust="spacingAndGlyphs">6</text><text class="cl" transform="translate(1626 1321) rotate(-60)" y="7" textLength="12.4" lengthAdjust="spacingAndGlyphs">6</text><text class="cl" transform="translate(139 336) rotate(-55)" y="7" textLength="19.5" lengthAdjust="spacingAndGlyphs">-2</text><text class="cl" transform="translate(157 262) rotate(-62)" y="7" textLength="12.2" lengthAdjust="spacingAndGlyphs">0</text><text class="cl" transform="translate(117 271) rotate(-60)" y="7" textLength="12.4" lengthAdjust="spacingAndGlyphs">8</text><text class="cl" transform="translate(120 307) rotate(-75)" y="7" textLength="12.4" lengthAdjust="spacingAndGlyphs">4</text><text class="cl" transform="translate(117 330) rotate(-55)" y="7" textLength="12.4" lengthAdjust="spacingAndGlyphs">2</text><text class="cl" transform="translate(149 228) rotate(-55)" y="7" textLength="12.4" lengthAdjust="spacingAndGlyphs">6</text><text class="cl" transform="translate(111 410) rotate(60)" y="7" textLength="19.5" lengthAdjust="spacingAndGlyphs">-2</text><text class="cl" transform="translate(131 208) rotate(-15)" y="7" textLength="24.8" lengthAdjust="spacingAndGlyphs">16</text><text class="cl" transform="translate(134 212) rotate(-8)" y="7" textLength="24.8" lengthAdjust="spacingAndGlyphs">12</text><text class="cl" transform="translate(127 217) rotate(-15)" y="7" textLength="24.8" lengthAdjust="spacingAndGlyphs">14</text><text class="cl" transform="translate(131 221) rotate(-15)" y="7" textLength="24.6" lengthAdjust="spacingAndGlyphs">10</text></g>
<rect x="102" y="137" width="1536" height="1228.5" fill="none" stroke="#000" stroke-width="2.2"/>
<rect x="1675.2" y="1287.3" width="59.8" height="60.1" fill="#5e4fa2"/><rect x="1675.2" y="1227.8" width="59.8" height="60.1" fill="#486cb0"/><rect x="1675.2" y="1168.2" width="59.8" height="60.1" fill="#3389bd"/><rect x="1675.2" y="1108.7" width="59.8" height="60.1" fill="#50a9af"/><rect x="1675.2" y="1049.1" width="59.8" height="60.1" fill="#6bc4a5"/><rect x="1675.2" y="989.6" width="59.8" height="60.1" fill="#91d3a4"/><rect x="1675.2" y="930" width="59.8" height="60.1" fill="#b3e0a2"/><rect x="1675.2" y="870.5" width="59.8" height="60.1" fill="#d1ed9c"/><rect x="1675.2" y="810.9" width="59.8" height="60.1" fill="#ebf7a0"/><rect x="1675.2" y="751.4" width="59.8" height="60.1" fill="#f8fcb4"/><rect x="1675.2" y="691.8" width="59.8" height="60.1" fill="#fff7b2"/><rect x="1675.2" y="632.2" width="59.8" height="60.1" fill="#fee797"/><rect x="1675.2" y="572.7" width="59.8" height="60.1" fill="#fed07e"/><rect x="1675.2" y="513.1" width="59.8" height="60.1" fill="#fdb768"/><rect x="1675.2" y="453.6" width="59.8" height="60.1" fill="#fa9857"/><rect x="1675.2" y="394" width="59.8" height="60.1" fill="#f57547"/><rect x="1675.2" y="334.5" width="59.8" height="60.1" fill="#e85b48"/><rect x="1675.2" y="274.9" width="59.8" height="60.1" fill="#d7414e"/><rect x="1675.2" y="215.4" width="59.8" height="60.1" fill="#bc2249"/><rect x="1675.2" y="155.8" width="59.8" height="60.1" fill="#9e0142"/><rect x="1675.2" y="155.8" width="59.8" height="1191.1" fill="none" stroke="#000" stroke-width="2.2"/><path d="M1735 1346.9h9M1735 1287.3h9M1735 1227.8h9M1735 1168.2h9M1735 1108.7h9M1735 1049.1h9M1735 989.6h9M1735 930h9M1735 870.5h9M1735 810.9h9M1735 751.4h9M1735 691.8h9M1735 632.2h9M1735 572.7h9M1735 513.1h9M1735 453.6h9M1735 394h9M1735 334.5h9M1735 274.9h9M1735 215.4h9M1735 155.8h9" stroke="#000" stroke-width="2.2" fill="none"/><text class="tk" x="1755" y="1357.1" textLength="53" lengthAdjust="spacingAndGlyphs">−24</text><text class="tk" x="1755" y="1297.5" textLength="53" lengthAdjust="spacingAndGlyphs">−22</text><text class="tk" x="1755" y="1238" textLength="52.9" lengthAdjust="spacingAndGlyphs">−20</text><text class="tk" x="1755" y="1178.4" textLength="52.9" lengthAdjust="spacingAndGlyphs">−18</text><text class="tk" x="1755" y="1118.9" textLength="52.9" lengthAdjust="spacingAndGlyphs">−16</text><text class="tk" x="1755" y="1059.3" textLength="52.9" lengthAdjust="spacingAndGlyphs">−14</text><text class="tk" x="1755" y="999.8" textLength="52.9" lengthAdjust="spacingAndGlyphs">−12</text><text class="tk" x="1755" y="940.2" textLength="52.8" lengthAdjust="spacingAndGlyphs">−10</text><text class="tk" x="1755" y="880.7" textLength="37" lengthAdjust="spacingAndGlyphs">−8</text><text class="tk" x="1755" y="821.1" textLength="37" lengthAdjust="spacingAndGlyphs">−6</text><text class="tk" x="1755" y="761.6" textLength="37" lengthAdjust="spacingAndGlyphs">−4</text><text class="tk" x="1755" y="702" textLength="37" lengthAdjust="spacingAndGlyphs">−2</text><text class="tk" x="1755" y="642.4" textLength="15.9" lengthAdjust="spacingAndGlyphs">0</text><text class="tk" x="1755" y="582.9" textLength="16" lengthAdjust="spacingAndGlyphs">2</text><text class="tk" x="1755" y="523.3" textLength="16" lengthAdjust="spacingAndGlyphs">4</text><text class="tk" x="1755" y="463.8" textLength="16" lengthAdjust="spacingAndGlyphs">6</text><text class="tk" x="1755" y="404.2" textLength="16" lengthAdjust="spacingAndGlyphs">8</text><text class="tk" x="1755" y="344.7" textLength="31.8" lengthAdjust="spacingAndGlyphs">10</text><text class="tk" x="1755" y="285.1" textLength="31.9" lengthAdjust="spacingAndGlyphs">12</text><text class="tk" x="1755" y="225.6" textLength="31.9" lengthAdjust="spacingAndGlyphs">14</text><text class="tk" x="1755" y="166" textLength="31.9" lengthAdjust="spacingAndGlyphs">16</text>
<text class="tt" x="870" y="55.5" textLength="1173" lengthAdjust="spacingAndGlyphs">GFS — θe de saturación media 1000–700 hPa — ANOMALÍA (sombreado y contornos)</text><text class="tt" x="870" y="86.5" textLength="772" lengthAdjust="spacingAndGlyphs" xml:space="preserve">Inicialización: 20260407 06Z   •   Pronóstico: f063 (UTC)</text><text class="tt" x="870" y="122" textLength="442" lengthAdjust="spacingAndGlyphs">Instituto Meteorológico Nacional</text><text class="tk" text-anchor="end" x="88.5" y="1219.7" textLength="47" lengthAdjust="spacingAndGlyphs">5°N</text><text class="tk" text-anchor="end" x="88.5" y="1066.2" textLength="63" lengthAdjust="spacingAndGlyphs">10°N</text><text class="tk" text-anchor="end" x="88.5" y="912.7" textLength="62.9" lengthAdjust="spacingAndGlyphs">15°N</text><text class="tk" text-anchor="end" x="88.5" y="759.2" textLength="63.1" lengthAdjust="spacingAndGlyphs">20°N</text><text class="tk" text-anchor="end" x="88.5" y="605.7" textLength="63" lengthAdjust="spacingAndGlyphs">25°N</text><text class="tk" text-anchor="end" x="88.5" y="452.2" textLength="63" lengthAdjust="spacingAndGlyphs">30°N</text><text class="tk" text-anchor="end" x="88.5" y="298.7" textLength="62.9" lengthAdjust="spacingAndGlyphs">35°N</text><text class="tk" text-anchor="middle" x="409.2" y="1396.6" textLength="69" lengthAdjust="spacingAndGlyphs">90°W</text><text class="tk" text-anchor="middle" x="716.4" y="1396.6" textLength="69.1" lengthAdjust="spacingAndGlyphs">80°W</text><text class="tk" text-anchor="middle" x="1023.6" y="1396.6" textLength="69" lengthAdjust="spacingAndGlyphs">70°W</text><text class="tk" text-anchor="middle" x="1330.8" y="1396.6" textLength="69.1" lengthAdjust="spacingAndGlyphs">60°W</text><text class="tk" text-anchor="middle" transform="translate(1834 752) rotate(-90)" textLength="700" lengthAdjust="spacingAndGlyphs">Anomalía de θe de saturación media 1000–700 hPa [°C]</text>
</svg>
</body></html>
